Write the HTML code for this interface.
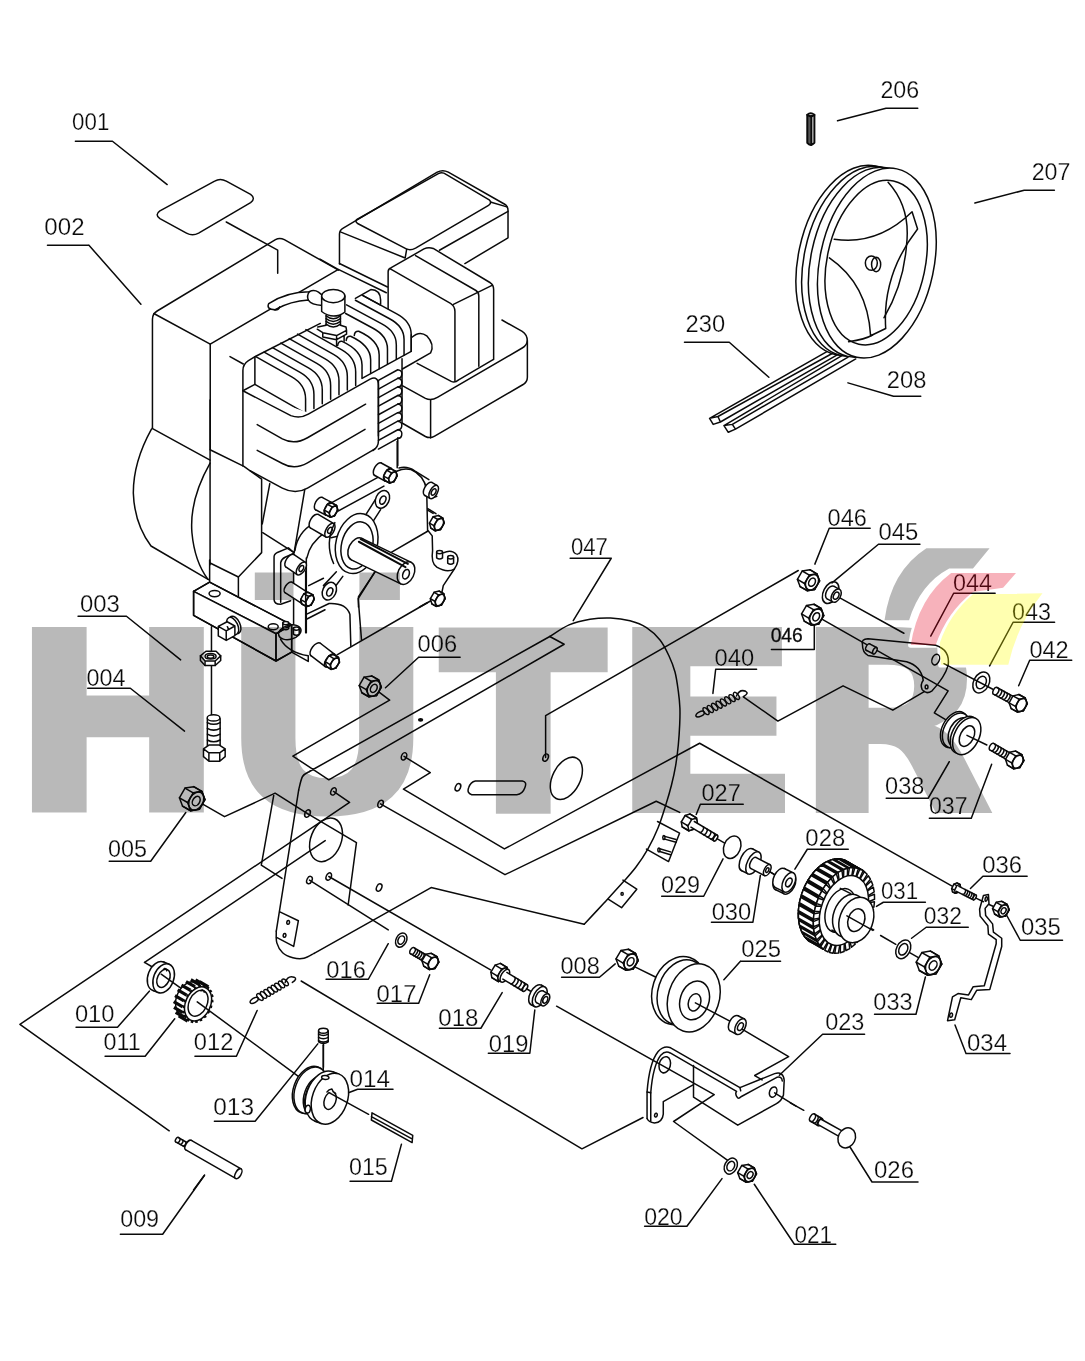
<!DOCTYPE html>
<html lang="en"><head><meta charset="utf-8"><title>HÜTER parts diagram</title>
<style>
html,body{margin:0;padding:0;background:#fff}
body{width:1085px;height:1361px;overflow:hidden;font-family:"Liberation Sans",sans-serif}
svg{display:block;will-change:transform}
.d path,.d line,.d ellipse,.d circle,.d polygon,.d polyline,.d rect{fill:none;stroke:#0a0a0a;stroke-width:1.5;vector-effect:non-scaling-stroke;stroke-linecap:round;stroke-linejoin:round}
.d .w{fill:#fff}
.d .k{fill:#111}
.d .s{stroke-width:1.4}
.lb text{font-family:"Liberation Sans",sans-serif;font-size:23.4px;fill:#0a0a0a;stroke:#fff;stroke-width:.25px}
.lb path{fill:none;stroke:#0a0a0a;stroke-width:1.5;stroke-linecap:round;stroke-linejoin:round}
</style></head><body>
<svg width="1085" height="1361" viewBox="0 0 1085 1361">
<rect width="1085" height="1361" fill="#fff"/>
<!-- 10_engine.svgf -->
<g class="d">
<g transform="translate(140,170) scale(0.276498)">
<path d="M 270,40 Q 290,28 312,40 L 400,88 Q 420,103 400,118 L 212,228 Q 190,240 168,228 L 72,176 Q 52,162 72,148 Z"/>
<path d="M 312,188 L 498,290 L 498,373"/>
<path d="M 45,934 L 45,540 Q 45,520 62,510 L 490,252 Q 505,243 522,252 L 718,362"/>
<path d="M 50,519 L 254,630 L 254,1010"/>
<path d="M 254,630 L 716,360"/>
</g>
<g transform="translate(320,160) scale(0.221198)">
<path d="M 88,470 L 88,335 Q 88,318 105,308 L 530,55 Q 555,42 580,55 L 835,200 Q 850,210 850,228 L 850,352 L 655,468"/>
<path d="M 165,270 L 535,62 Q 552,52 570,65 L 765,180 Q 780,192 762,205 L 432,398 Q 410,410 390,402 L 170,287 Q 158,278 165,270 Z"/>
<path d="M 92,325 L 385,443 L 392,403"/>
<path d="M 540,408 L 850,232"/>
<path d="M 770,190 L 845,212"/>
<path d="M 88,468 L 305,574"/>
<path d="M 0,448 L 78,492 L 300,600"/>
<path class='w' d="M 308,672 L 308,505 Q 308,492 322,487 L 470,402 Q 490,392 512,400 L 770,555 Q 785,565 785,585 L 785,902"/>
<path d="M 318,492 L 590,648 Q 610,660 610,685 L 610,998"/>
<path d="M 603,653 L 780,566"/>
<path d="M 432,432 L 705,590 Q 718,598 718,615 L 718,932"/>
</g>
<g transform="translate(230,270) scale(0.184332)">
<path d="M 0,470 L 72,510"/>
<path d="M 70,1063 L 70,545 Q 70,512 100,492 L 140,468 L 490,290"/>
<path d="M 135,470 L 135,620 L 70,655"/>
<path d="M 135,620 L 405,775"/>
<path d="M 140,470 L 335,580 Q 410,622 410,700 L 410,776"/>
<path d="M 185.3,445.6 L 380.3,555.6 Q 455.3,597.6 455.3,675.6 L 455.3,751.09"/>
<path d="M 230.6,421.2 L 425.6,531.2 Q 500.6,573.2 500.6,651.2 L 500.6,726.17"/>
<path d="M 275.9,396.8 L 470.9,506.8 Q 545.9,548.8 545.9,626.8 L 545.9,701.25"/>
<path d="M 321.2,372.4 L 516.2,482.4 Q 591.2,524.4 591.2,602.4 L 591.2,676.34"/>
<path d="M 366.5,348 L 561.5,458 Q 636.5,500 636.5,578 L 636.5,651.42"/>
<path d="M 411.8,323.6 L 606.8,433.6 Q 681.8,475.6 681.8,553.6 L 681.8,626.51"/>
<path class='w' d="M 70,655 L 330,790 Q 380,808 425,782 L 760,592 Q 805,572 805,625 L 805,900"/>
<path class='w' d="M 210,182 Q 310,118 430,118 Q 455,104 480,120 L 502,138 L 502,192 Q 440,188 425,163 Q 330,168 245,215 Q 195,215 210,182 Z"/>
<path d="M 430,118 Q 415,140 425,163 M 240,216 Q 262,220 270,200"/>
</g>
<g transform="translate(320,275) scale(0.110599)">
<path d="M 320,212 L 460,132 Q 545,135 548,225 L 548,262"/>
<path d="M 385,185 L 548,272"/>
<path d="M 385,185 L 690,350 Q 825,420 825,540 L 825,690"/>
<path d="M 320,228 L 625,393 Q 760,463 760,583 L 760,725"/>
<path d="M 240,270 L 555,440.42 Q 690,510.42 690,630.41 L 690,762"/>
<path d="M 232,348 L 475,479.46 Q 610,549.46 610,669.46 L 610,805"/>
<path d="M 310,547 Q 313,505 350,509 Q 535,592 535,722 L 535,848"/>
<path d="M 237,592 Q 240,550 277,554 Q 458,637 458,767 L 458,890"/>
<path d="M 160,638 Q 163,596 200,600 Q 380,683 380,813 L 380,930"/>
<path d="M 380,935 L 825,690 L 825,540"/>
<path d="M 828,565 Q 900,500 965,550 Q 1040,630 1000,705 L 745,850"/>
<path class='w' d="M 15,190 L 15,330 Q 120,410 225,335 L 225,190"/>
<ellipse class='w' cx="120" cy="190" rx="105" ry="60"/>
<path d="M 55,370 Q 120,420 185,370"/>
<path d="M 55,395 Q 120,445 185,395"/>
<path d="M 55,420 Q 120,470 185,420"/>
<path d="M 55,445 Q 120,495 185,445"/>
<path d="M 55,365 L 55,450 M 185,365 L 185,450"/>
<path d="M -20,470 L 55,455 M 185,455 L 235,470 L 240,500 L 150,548 L 25,522 L -25,490 M 150,548 L 150,585 L 240,535 L 240,500 M 150,585 L 25,560 L 25,522 M 218,548 L 218,600 M 150,585 L 150,640"/>
</g>
<g transform="translate(360,320) scale(0.184332)">
<path d="M 770,0 L 880,62 Q 908,80 908,115 L 908,310 Q 908,335 885,350 L 405,630 Q 380,645 355,632 L 230,560"/>
<path d="M 908,112 Q 905,138 880,152 L 420,420 Q 385,440 355,425 L 232,357"/>
<path d="M 383,437 L 383,640"/>
<path d="M 310,235 L 495,333 Q 515,342 535,325 L 722,215"/>
<path d="M 228,210 L 228,560"/>
<path d="M 205,640 L 205,790"/>
<path d="M 100,328 L 205,270 Q 232,273 226,300 Q 224,316 205,316.5"/>
<path d="M 100,374.5 L 205,316.5 Q 232,319.5 226,346.5 Q 224,362.5 205,363"/>
<path d="M 100,421 L 205,363 Q 232,366 226,393 Q 224,409 205,409.5"/>
<path d="M 100,467.5 L 205,409.5 Q 232,412.5 226,439.5 Q 224,455.5 205,456"/>
<path d="M 100,514 L 205,456 Q 232,459 226,486 Q 224,502 205,502.5"/>
<path d="M 100,560.5 L 205,502.5 Q 232,505.5 226,532.5 Q 224,548.5 205,549"/>
<path d="M 100,607 L 205,549 Q 232,552 226,579 Q 224,595 205,595.5"/>
<path d="M 100,653.5 L 205,595.5 Q 232,598.5 226,625.5 Q 224,641.5 205,642"/>
<path d="M 100,700 L 205,642"/>
<path d="M 100,330 L 100,655 Q 100,690 70,708"/>
</g>
<g transform="translate(130,400) scale(0.221198)">
<path d="M 100,128 L 362,272"/>
<path d="M 97,132 Q 15,280 15,420 Q 20,560 95,660 L 355,812"/>
<path d="M 362,285 Q 268,450 280,600 Q 292,730 352,810"/>
<path d="M 362,0 L 362,745"/>
<path d="M 362,225 L 515,300 L 595,358 L 595,690 L 490,800 L 490,892"/>
<path d="M 362,737 L 490,800"/>
<path d="M 632,378 L 598,560"/>
<path d="M 600,600 L 742,690 L 790,405"/>
</g>
<g transform="translate(250,400) scale(0.119816)">
<path d="M 60,205 L 270,325 Q 370,378 480,315 L 965,35"/>
<path d="M 60,420 L 270,530 Q 370,588 480,525 L 960,245"/>
<path d="M 0,590 L 270,735 Q 380,792 480,735 L 1040,410"/>
</g>
<g transform="translate(270,440) scale(0.184332)">
<path d="M 690,8 L 690,150"/>
<path d="M 648,200 Q 700,145 765,160 Q 835,190 850,270 L 855,495 L 660,608"/>
<path d="M 850,300 Q 870,320 905,305"/>
<path d="M 700,152 Q 745,140 785,168 L 862,215"/>
<path d="M 856,372 L 900,400"/>
<path d="M 855,380 L 885,398 M 858,492 L 880,520 L 882,600 Q 872,668 905,690 Q 960,722 1000,700 Q 1032,655 1012,622 Q 985,590 940,612"/>
<path d="M 1000,700 L 940,790 L 932,830"/>
<path d="M 570,715 L 480,850 L 480,906"/>
<path d="M 812,906 L 880,868"/>
<path d="M 22,866 L 22,640 Q 20,620 40,610 L 100,585 L 130,612 M 22,866 Q 24,892 58,891 L 112,872"/>
<path d="M 58,880 L 58,665 Q 62,645 82,636 L 128,615 L 128,1000"/>
<path d="M 135,600 Q 150,500 240,450"/>
<path d="M 200,640 Q 215,560 300,500"/>
<path d="M 197,640 L 197,1046"/>
<path d="M 330,342 L 590,200 M 352,395 L 618,250"/>
<ellipse class='w' cx="585" cy="158" rx="19" ry="38" transform="rotate(28.61 585 158)"/>
<path class="w" style="stroke:none" d="M 566.8,191.36 L 621.8,221.36 L 658.2,154.64 L 603.2,124.64 Z"/>
<path d="M 566.8,191.36 L 621.8,221.36 M 603.2,124.64 L 658.2,154.64"/>
<ellipse class='w' cx="640" cy="188" rx="19" ry="38" transform="rotate(28.61 640 188)"/>
<path class='w' d="M 616.37,195.72 L 633.44,164.02 L 657.07,156.3 L 683.07,170.3 L 689.63,194.28 L 672.56,225.98 L 648.93,233.7 L 622.93,219.7 Z"/>
<path d="M 646.56,211.98 L 672.56,225.98"/>
<path d="M 622.93,219.7 L 648.93,233.7"/>
<path d="M 616.37,195.72 L 642.37,209.72"/>
<path d="M 633.44,164.02 L 659.44,178.02"/>
<path d="M 657.07,156.3 L 683.07,170.3"/>
<path d="M 663.63,180.28 L 689.63,194.28"/>
<path class='w' d="M 672.56,225.98 L 648.93,233.7 L 642.37,209.72 L 659.44,178.02 L 683.07,170.3 L 689.63,194.28 Z"/>
<ellipse cx="666" cy="202" rx="17.03" ry="30.96" transform="rotate(28.3 666 202)"/>
<ellipse class='w' cx="265" cy="345" rx="19" ry="38" transform="rotate(27.85 265 345)"/>
<path class="w" style="stroke:none" d="M 247.25,378.6 L 300.25,406.6 L 335.75,339.4 L 282.75,311.4 Z"/>
<path d="M 247.25,378.6 L 300.25,406.6 M 282.75,311.4 L 335.75,339.4"/>
<ellipse class='w' cx="318" cy="373" rx="19" ry="38" transform="rotate(27.85 318 373)"/>
<path class='w' d="M 294.37,380.72 L 311.44,349.02 L 335.07,341.3 L 361.07,355.3 L 367.63,379.28 L 350.56,410.98 L 326.93,418.7 L 300.93,404.7 Z"/>
<path d="M 324.56,396.98 L 350.56,410.98"/>
<path d="M 300.93,404.7 L 326.93,418.7"/>
<path d="M 294.37,380.72 L 320.37,394.72"/>
<path d="M 311.44,349.02 L 337.44,363.02"/>
<path d="M 335.07,341.3 L 361.07,355.3"/>
<path d="M 341.63,365.28 L 367.63,379.28"/>
<path class='w' d="M 350.56,410.98 L 326.93,418.7 L 320.37,394.72 L 337.44,363.02 L 361.07,355.3 L 367.63,379.28 Z"/>
<ellipse cx="344" cy="387" rx="17.03" ry="30.96" transform="rotate(28.3 344 387)"/>
<ellipse class='w' cx="240" cy="440" rx="21" ry="42" transform="rotate(30.47 240 440)"/>
<path class="w" style="stroke:none" d="M 218.71,476.2 L 303.71,526.2 L 346.29,453.8 L 261.29,403.8 Z"/>
<path d="M 218.71,476.2 L 303.71,526.2 M 261.29,403.8 L 346.29,453.8"/>
<ellipse class='w' cx="325" cy="490" rx="21" ry="42" transform="rotate(30.47 325 490)"/>
<ellipse cx="325" cy="490" rx="11" ry="18" transform="rotate(30 325 490)"/>
<path d="M 520,405 L 575,318 M 560,440 L 600,378"/>
<ellipse class='w' cx="610" cy="322" rx="36" ry="50" transform="rotate(25 610 322)"/>
<ellipse cx="612" cy="326" rx="15" ry="24" transform="rotate(25 612 326)"/>
<path d="M 360,715 L 290,790 M 395,740 L 350,800"/>
<ellipse class='w' cx="322" cy="820" rx="36" ry="50" transform="rotate(25 322 820)"/>
<ellipse cx="324" cy="824" rx="15" ry="24" transform="rotate(25 324 824)"/>
<path d="M 210,790 L 290,750 M 330,530 L 380,520"/>
<path d="M 352,448 Q 295,560 345,670"/>
<ellipse class='w' cx="470" cy="562" rx="112" ry="165" transform="rotate(14 470 562)"/>
<ellipse cx="472" cy="572" rx="84" ry="130" transform="rotate(14 472 572)"/>
<ellipse class='w' cx="470" cy="592" rx="42.9" ry="65" transform="rotate(25.88 470 592)"/>
<path class="w" style="stroke:none" d="M 441.63,650.48 L 709.63,780.48 L 766.37,663.52 L 498.37,533.52 Z"/>
<path d="M 441.63,650.48 L 709.63,780.48 M 498.37,533.52 L 766.37,663.52"/>
<ellipse class='w' cx="738" cy="722" rx="42.9" ry="65" transform="rotate(25.88 738 722)"/>
<ellipse cx="738" cy="728" rx="17" ry="27" transform="rotate(20 738 728)"/>
<path style="stroke-width:2" d="M 492,538 L 748,672 M 482,552 L 735,690"/>
<ellipse class='w' cx="108" cy="655" rx="20" ry="40" transform="rotate(34.11 108 655)"/>
<path class="w" style="stroke:none" d="M 85.57,688.12 L 147.57,730.12 L 192.43,663.88 L 130.43,621.88 Z"/>
<path d="M 85.57,688.12 L 147.57,730.12 M 130.43,621.88 L 192.43,663.88"/>
<ellipse class='w' cx="170" cy="697" rx="20" ry="40" transform="rotate(34.11 170 697)"/>
<ellipse cx="170" cy="697" rx="11" ry="18" transform="rotate(30 170 697)"/>
<ellipse class='w' cx="100" cy="800" rx="17" ry="34" transform="rotate(32.8 100 800)"/>
<path class="w" style="stroke:none" d="M 81.58,828.58 L 171.58,886.58 L 208.42,829.42 L 118.42,771.42 Z"/>
<path d="M 81.58,828.58 L 171.58,886.58 M 118.42,771.42 L 208.42,829.42"/>
<ellipse class='w' cx="190" cy="858" rx="17" ry="34" transform="rotate(32.8 190 858)"/>
<path class='w' d="M 166.37,865.72 L 183.44,834.02 L 207.07,826.3 L 233.07,840.3 L 239.63,864.28 L 222.56,895.98 L 198.93,903.7 L 172.93,889.7 Z"/>
<path d="M 196.56,881.98 L 222.56,895.98"/>
<path d="M 172.93,889.7 L 198.93,903.7"/>
<path d="M 166.37,865.72 L 192.37,879.72"/>
<path d="M 183.44,834.02 L 209.44,848.02"/>
<path d="M 207.07,826.3 L 233.07,840.3"/>
<path d="M 213.63,850.28 L 239.63,864.28"/>
<path class='w' d="M 222.56,895.98 L 198.93,903.7 L 192.37,879.72 L 209.44,848.02 L 233.07,840.3 L 239.63,864.28 Z"/>
<ellipse cx="216" cy="872" rx="17.03" ry="30.96" transform="rotate(28.3 216 872)"/>
<ellipse class='w' cx="858" cy="265" rx="20" ry="40" transform="rotate(29.54 858 265)"/>
<path class="w" style="stroke:none" d="M 838.28,299.8 L 868.28,316.8 L 907.72,247.2 L 877.72,230.2 Z"/>
<path d="M 838.28,299.8 L 868.28,316.8 M 877.72,230.2 L 907.72,247.2"/>
<ellipse class='w' cx="888" cy="282" rx="20" ry="40" transform="rotate(29.54 888 282)"/>
<ellipse cx="888" cy="282" rx="11" ry="19" transform="rotate(30 888 282)"/>
<path class='w' d="M 864.97,450.8 L 885.12,416.25 L 913.15,409.45 L 937.15,423.45 L 945.03,451.2 L 924.88,485.75 L 896.85,492.55 L 872.85,478.55 Z"/>
<path d="M 900.88,471.75 L 924.88,485.75"/>
<path d="M 872.85,478.55 L 896.85,492.55"/>
<path d="M 864.97,450.8 L 888.97,464.8"/>
<path d="M 885.12,416.25 L 909.12,430.25"/>
<path d="M 913.15,409.45 L 937.15,423.45"/>
<path d="M 921.03,437.2 L 945.03,451.2"/>
<path class='w' d="M 924.88,485.75 L 896.85,492.55 L 888.97,464.8 L 909.12,430.25 L 937.15,423.45 L 945.03,451.2 Z"/>
<ellipse cx="917" cy="458" rx="20.64" ry="34.4" transform="rotate(30.26 917 458)"/>
<path class='w' d="M 869.97,860.8 L 890.12,826.25 L 918.15,819.45 L 942.15,833.45 L 950.03,861.2 L 929.88,895.75 L 901.85,902.55 L 877.85,888.55 Z"/>
<path d="M 905.88,881.75 L 929.88,895.75"/>
<path d="M 877.85,888.55 L 901.85,902.55"/>
<path d="M 869.97,860.8 L 893.97,874.8"/>
<path d="M 890.12,826.25 L 914.12,840.25"/>
<path d="M 918.15,819.45 L 942.15,833.45"/>
<path d="M 926.03,847.2 L 950.03,861.2"/>
<path class='w' d="M 929.88,895.75 L 901.85,902.55 L 893.97,874.8 L 914.12,840.25 L 942.15,833.45 L 950.03,861.2 Z"/>
<ellipse cx="922" cy="868" rx="20.64" ry="34.4" transform="rotate(30.26 922 868)"/>
<path class='w' d="M 904,640 L 904,608 M 936,640 L 936,608 M 904,640 Q 920,652 936,640"/>
<ellipse class='w' cx="920" cy="608" rx="16" ry="9"/>
<path class='w' d="M 964,668 L 964,636 M 996,668 L 996,636 M 964,668 Q 980,680 996,668"/>
<ellipse class='w' cx="980" cy="636" rx="16" ry="9"/>
</g>
<g transform="translate(170,560) scale(0.184332)">
<path class='w' d="M 128,170 L 215,120 L 660,352 L 575,400 Z"/>
<path class='w' d="M 128,170 L 128,300 L 575,548 L 575,400 M 575,548 L 660,500 L 660,352"/>
<path d="M 128,170 L 215,120 L 660,352 L 575,400 Z M 128,170 L 128,300 L 575,548 L 575,400 M 575,548 L 660,500 L 660,352"/>
<ellipse cx="242" cy="182" rx="30" ry="17"/>
<ellipse cx="560" cy="362" rx="27" ry="16"/>
<path d="M 215,120 L 215,0"/>
<ellipse class='w' cx="352" cy="352" rx="28" ry="50" transform="rotate(-25 352 352)"/>
<ellipse class='w' cx="340" cy="358" rx="28" ry="50" transform="rotate(-25 340 358)"/>
<path class='w' d="M 262,360 L 310,335 L 352,358 L 352,410 L 305,436 L 262,412 Z M 262,360 L 305,385 L 352,358 M 305,385 L 305,436"/>
<path d="M 225,362 L 225,500 M 225,570 L 225,840"/>
<path class='w' d="M 165,520 L 195,495 L 250,495 L 275,520 L 275,545 L 245,572 L 190,572 L 165,545 Z"/>
<path d="M 165,520 L 190,548 L 245,548 L 275,520 M 190,548 L 190,572 M 245,548 L 245,572"/>
<ellipse cx="220" cy="522" rx="30" ry="15"/>
<ellipse cx="220" cy="524" rx="18" ry="9"/>
<ellipse cx="650" cy="392" rx="62" ry="38" transform="rotate(-15 650 392)"/>
<path class='w' d="M 612,372 L 612,342 M 644,372 L 644,342 M 612,372 Q 628,384 644,372"/>
<ellipse class='w' cx="628" cy="342" rx="16" ry="9"/>
<path class='w' d="M 669,402 L 669,372 M 701,402 L 701,372 M 669,402 Q 685,414 701,402"/>
<ellipse class='w' cx="685" cy="372" rx="16" ry="9"/>
<ellipse class='w' cx="790" cy="485" rx="21" ry="42" transform="rotate(37.57 790 485)"/>
<path class="w" style="stroke:none" d="M 764.39,518.29 L 842.39,578.29 L 893.61,511.71 L 815.61,451.71 Z"/>
<path d="M 764.39,518.29 L 842.39,578.29 M 815.61,451.71 L 893.61,511.71"/>
<ellipse class='w' cx="868" cy="545" rx="21" ry="42" transform="rotate(37.57 868 545)"/>
<path class='w' d="M 842.63,551.7 L 862.54,519.33 L 887.92,512.64 L 913.92,528.64 L 919.37,554.3 L 899.46,586.67 L 874.08,593.36 L 848.08,577.36 Z"/>
<path d="M 873.46,570.67 L 899.46,586.67"/>
<path d="M 848.08,577.36 L 874.08,593.36"/>
<path d="M 842.63,551.7 L 868.63,567.7"/>
<path d="M 862.54,519.33 L 888.54,535.33"/>
<path d="M 887.92,512.64 L 913.92,528.64"/>
<path d="M 893.37,538.3 L 919.37,554.3"/>
<path class='w' d="M 899.46,586.67 L 874.08,593.36 L 868.63,567.7 L 888.54,535.33 L 913.92,528.64 L 919.37,554.3 Z"/>
<ellipse cx="894" cy="561" rx="17.97" ry="32.68" transform="rotate(31.61 894 561)"/>
<path d="M 600,430 Q 640,500 750,520 L 750,550 L 660,500"/>
</g>
<g transform="translate(290,560) scale(0.184332)">
<path d="M 460,65 L 370,210 L 388,435"/>
<path d="M 255,515 L 745,232"/>
<path d="M 88,295 L 212,236 Q 305,232 325,295 L 330,468"/>
<path d="M 92,320 L 190,270"/>
<path d="M 85,60 L 85,395"/>
</g>
</g>

<!-- 20_parts.svgf -->
<g class="d">
<path d="M 379.4,692.44 L 389.63,700.18 L 292.86,756.04 L 328.8,779.82 L 564.15,644.24 L 549.77,636.5 L 309.45,771.52"/>
<path d="M 549.8,636.5 C 553.02,634.57 562.4,627.77 569.1,624.9 C 575.8,622.03 583.08,620.45 590,619.3 C 596.92,618.15 603.93,617.75 610.6,618 C 617.27,618.25 624.02,619.2 630,620.8 C 635.98,622.4 641.5,624.4 646.5,627.6 C 651.5,630.8 656.3,635.38 660,640 C 663.7,644.62 666.2,649.97 668.7,655.3 C 671.2,660.63 673.4,666.02 675,672 C 676.6,677.98 677.48,685.2 678.3,691.2 C 679.12,697.2 679.67,702.47 679.9,708 C 680.13,713.53 679.97,718.23 679.7,724.4 C 679.43,730.57 678.98,738.08 678.3,745 C 677.62,751.92 676.73,759.23 675.6,765.9 C 674.47,772.57 673.13,778.5 671.5,785 C 669.87,791.5 668.05,797.73 665.8,804.9 C 663.55,812.07 661,820.63 658,828 C 655,835.37 651.47,842.6 647.8,849.1 C 644.13,855.6 640.15,861.47 636,867 C 631.85,872.53 628.23,876.3 622.9,882.3 C 617.57,888.3 610.45,896 604,903 C 597.55,910 587.5,920.75 584.2,924.3"/>
<path d="M 309.45,771.52 C 308.29,772.35 304.33,773.41 302.53,776.5 C 300.74,779.59 299.31,787.79 298.66,790.05"/>
<path d="M 298.66,790.05 L 276.27,931.24"/>
<path d="M 276.27,931.24 C 276.36,933.18 275.76,939.26 276.82,942.86 C 277.88,946.45 279.95,950.32 282.63,952.81 C 285.3,955.3 289.31,956.87 292.86,957.79 C 296.41,958.71 300.37,959.08 303.92,958.34 C 307.47,957.6 312.44,954.19 314.15,953.36"/>
<path d="M 314.15,953.36 L 431.11,887.56 L 584.2,924.3"/>
<path d="M 404.01,756.31 L 430.28,772.63 L 403.46,789.22 L 504.38,848.94 L 699.63,743.23 L 953.87,887.1"/>
<path d="M 333.5,791.43 L 349.54,802.49 L 19.91,1024.33 L 169.22,1130.78"/>
<path d="M 307.51,813.55 L 356.45,842.58 L 348.16,904.98"/>
<path d="M 325.21,840.65 L 144.56,962.44"/>
<path d="M 201.84,803.69 L 224.52,816.68 L 275.12,793.18 L 307.51,813.55"/>
<path d="M 273.73,795.39 L 261.29,865.07 L 282.03,878.34"/>
<path d="M 380.51,803.87 L 505,874.7 L 656.22,801.29 L 679.72,812.35"/>
<path d="M 545.62,757.6 L 545.62,715.58 L 798.27,570.51"/>
<path d="M 309.45,880.09 L 388.25,929.86"/>
<path d="M 328.8,876.5 L 490.55,969.95"/>
<path d="M 301.15,981.01 L 581.94,1148.85 L 643.04,1117.51"/>
<path d="M 743.32,696.77 L 777.88,721.11 L 843.06,685.81 L 892.83,710.14 L 924.63,691.34"/>
<path d="M 840.3,598.16 L 903.89,633.27"/>
<path d="M 822.33,619.45 L 948.13,690.78 L 934.31,712.9 L 948.13,721.2"/>
<path d="M 556.59,1006.18 L 714.2,1094.7 L 673.6,1121.5 L 727.65,1160.44"/>
<g transform="translate(250,620) scale(0.276498)">
<ellipse cx="557" cy="493" rx="9" ry="14" transform="rotate(25 557 493)"/>
<ellipse cx="302" cy="620" rx="9" ry="14" transform="rotate(25 302 620)"/>
<ellipse cx="208" cy="700" rx="9" ry="14" transform="rotate(25 208 700)"/>
<ellipse cx="472" cy="665" rx="9" ry="14" transform="rotate(25 472 665)"/>
<ellipse cx="752" cy="605" rx="9" ry="14" transform="rotate(25 752 605)"/>
<path d="M 815,582 L 985,582 Q 1003,585 994,607 Q 986,630 965,632 L 802,632 Q 783,626 791,606 Q 798,585 815,582 Z"/>
<ellipse cx="275" cy="795" rx="55" ry="82" transform="rotate(22 275 795)"/>
<ellipse class='k' cx="617" cy="361" rx="7" ry="4"/>
<path class='w' d="M 394.92,237.18 L 412.52,206.7 L 439.8,202.12 L 465.4,216.91 L 475.08,242.82 L 457.48,273.3 L 430.2,277.88 L 404.6,263.09 Z"/>
<path d="M 431.88,258.52 L 457.48,273.3"/>
<path d="M 404.6,263.09 L 430.2,277.88"/>
<path d="M 394.92,237.18 L 420.52,251.96"/>
<path d="M 412.52,206.7 L 438.12,221.48"/>
<path d="M 439.8,202.12 L 465.4,216.91"/>
<path d="M 449.48,228.04 L 475.08,242.82"/>
<path class='w' d="M 457.48,273.3 L 430.2,277.88 L 420.52,251.96 L 438.12,221.48 L 465.4,216.91 L 475.08,242.82 Z"/>
<ellipse cx="447.8" cy="247.39" rx="21.19" ry="30.27" transform="rotate(30 447.8 247.39)"/>
<ellipse class='w' cx="447.8" cy="247.39" rx="11.09" ry="15.84" transform="rotate(30 447.8 247.39)"/>
</g>
<g transform="translate(500,600) scale(0.276498)">
<ellipse cx="165" cy="570" rx="9" ry="14" transform="rotate(25 165 570)"/>
<ellipse cx="240" cy="645" rx="50" ry="82" transform="rotate(27 240 645)"/>
<ellipse class='s' cx="745" cy="402" rx="7.5" ry="15" transform="rotate(-38.57 745 402)"/>
<ellipse class='s' cx="760.71" cy="394.14" rx="7.5" ry="15" transform="rotate(-38.57 760.71 394.14)"/>
<ellipse class='s' cx="776.43" cy="386.29" rx="7.5" ry="15" transform="rotate(-38.57 776.43 386.29)"/>
<ellipse class='s' cx="792.14" cy="378.43" rx="7.5" ry="15" transform="rotate(-38.57 792.14 378.43)"/>
<ellipse class='s' cx="807.86" cy="370.57" rx="7.5" ry="15" transform="rotate(-38.57 807.86 370.57)"/>
<ellipse class='s' cx="823.57" cy="362.71" rx="7.5" ry="15" transform="rotate(-38.57 823.57 362.71)"/>
<ellipse class='s' cx="839.29" cy="354.86" rx="7.5" ry="15" transform="rotate(-38.57 839.29 354.86)"/>
<ellipse class='s' cx="855" cy="347" rx="7.5" ry="15" transform="rotate(-38.57 855 347)"/>
<ellipse cx="723.53" cy="412.73" rx="16.5" ry="8.25" transform="rotate(-26.57 723.53 412.73)"/>
<path d="M 855,347 Q 867.07,320.84 888.54,330.23 Q 901.96,336.94 881.16,349.01"/>
</g>
<g transform="translate(250,840) scale(0.276498)">
<ellipse cx="215" cy="145" rx="9" ry="14" transform="rotate(25 215 145)"/>
<ellipse cx="285" cy="132" rx="9" ry="14" transform="rotate(25 285 132)"/>
<ellipse cx="467" cy="172" rx="9" ry="14" transform="rotate(25 467 172)"/>
<path d="M 108,260 L 175,292 L 158,385 L 96,352"/>
<ellipse cx="138" cy="298" rx="5" ry="7" transform="rotate(10 138 298)"/>
<ellipse cx="125" cy="345" rx="5" ry="7" transform="rotate(10 125 345)"/>
<ellipse class='w' cx="547" cy="362" rx="18.9" ry="27" transform="rotate(27 547 362)"/>
<ellipse cx="547" cy="362" rx="11.2" ry="16" transform="rotate(27 547 362)"/>
<ellipse class='w' cx="586" cy="400" rx="6.25" ry="12.5" transform="rotate(30.51 586 400)"/>
<path class="w" style="stroke:none" d="M 579.65,410.77 L 635.65,443.77 L 648.35,422.23 L 592.35,389.23 Z"/>
<path d="M 579.65,410.77 L 635.65,443.77 M 592.35,389.23 L 648.35,422.23"/>
<path d="M 583.57,413.08 C 590.74,417.3 603.43,395.76 596.27,391.54"/>
<path d="M 591.41,417.7 C 598.58,421.92 611.27,400.38 604.11,396.16"/>
<path d="M 599.25,422.32 C 606.42,426.54 619.11,405 611.95,400.78"/>
<path d="M 607.09,426.94 C 614.26,431.16 626.95,409.62 619.79,405.4"/>
<path d="M 614.93,431.56 C 622.1,435.78 634.79,414.24 627.63,410.02"/>
<path class='w' d="M 621.85,436.8 L 635.56,413.53 L 655.71,409.74 L 676.38,421.92 L 682.83,441.39 L 669.12,464.65 L 648.97,468.45 L 628.29,456.26 Z"/>
<path d="M 648.44,452.47 L 669.12,464.65"/>
<path d="M 628.29,456.26 L 648.97,468.45"/>
<path d="M 621.85,436.8 L 642.53,448.98"/>
<path d="M 635.56,413.53 L 656.24,425.72"/>
<path d="M 655.71,409.74 L 676.38,421.92"/>
<path d="M 662.15,429.2 L 682.83,441.39"/>
<path class='w' d="M 669.12,464.65 L 648.97,468.45 L 642.53,448.98 L 656.24,425.72 L 676.38,421.92 L 682.83,441.39 Z"/>
<ellipse cx="662.68" cy="445.18" rx="15.33" ry="23.22" transform="rotate(30.51 662.68 445.18)"/>
<path class='w' d="M 871.14,478.18 L 886.58,452.45 L 905.43,446.27 L 929.45,460.68 L 932.87,480.23 L 917.43,505.95 L 898.58,512.13 L 874.57,497.73 Z"/>
<path d="M 893.42,491.55 L 917.43,505.95"/>
<path d="M 874.57,497.72 L 898.57,512.13"/>
<path d="M 871.14,478.18 L 895.15,492.58"/>
<path d="M 886.58,452.45 L 910.59,466.86"/>
<path d="M 905.43,446.28 L 929.44,460.68"/>
<path d="M 908.86,465.82 L 932.87,480.23"/>
<path class='w' d="M 917.43,505.95 L 898.57,512.13 L 895.15,492.58 L 910.59,466.86 L 929.44,460.68 L 932.87,480.23 Z"/>
<ellipse class='w' cx="914.01" cy="486.41" rx="13" ry="26" transform="rotate(30.96 914.01 486.41)"/>
<path class="w" style="stroke:none" d="M 900.63,508.7 L 908.44,513.38 L 935.19,468.79 L 927.39,464.11 Z"/>
<path d="M 900.63,508.7 L 908.44,513.38 M 927.39,464.11 L 935.19,468.79"/>
<ellipse class='w' cx="921.81" cy="491.09" rx="13" ry="26" transform="rotate(30.96 921.81 491.09)"/>
<path class="w" style="stroke:none" d="M 914.61,503.09 L 987.8,547 L 1002.2,523 L 929.02,479.08 Z"/>
<path d="M 914.61,503.09 L 987.8,547 M 929.02,479.08 L 1002.2,523"/>
<ellipse class='w' cx="995" cy="535" rx="7" ry="14" transform="rotate(30.96 995 535)"/>
<path d="M 942.22,519.66 C 950.2,524.45 964.61,500.44 956.63,495.65"/>
<path d="M 953.53,526.44 C 961.51,531.23 975.92,507.22 967.93,502.43"/>
<path d="M 964.83,533.23 C 972.82,538.02 987.22,514.01 979.24,509.22"/>
<path d="M 976.14,540.01 C 984.12,544.8 998.53,520.79 990.55,516"/>
<path d="M 1000,538 L 1030,556"/>
<ellipse class='w' cx="1035" cy="560" rx="22" ry="40" transform="rotate(28.3 1035 560)"/>
<path class="w" style="stroke:none" d="M 1016.04,595.22 L 1029.04,602.22 L 1066.96,531.78 L 1053.96,524.78 Z"/>
<path d="M 1016.04,595.22 L 1029.04,602.22 M 1053.96,524.78 L 1066.96,531.78"/>
<ellipse class='w' cx="1048" cy="567" rx="22" ry="40" transform="rotate(28.3 1048 567)"/>
<ellipse class='w' cx="1048" cy="567" rx="13.2" ry="24" transform="rotate(28.81 1048 567)"/>
<path class="w" style="stroke:none" d="M 1036.43,588.03 L 1056.43,599.03 L 1079.57,556.97 L 1059.57,545.97 Z"/>
<path d="M 1036.43,588.03 L 1056.43,599.03 M 1059.57,545.97 L 1079.57,556.97"/>
<ellipse class='w' cx="1068" cy="578" rx="13.2" ry="24" transform="rotate(28.81 1068 578)"/>
<ellipse cx="1068" cy="578" rx="8" ry="13" transform="rotate(27 1068 578)"/>
<ellipse class='s' cx="36" cy="568" rx="7.5" ry="15" transform="rotate(-42.22 36 568)"/>
<ellipse class='s' cx="49" cy="560.43" rx="7.5" ry="15" transform="rotate(-42.22 49 560.43)"/>
<ellipse class='s' cx="62" cy="552.86" rx="7.5" ry="15" transform="rotate(-42.22 62 552.86)"/>
<ellipse class='s' cx="75" cy="545.29" rx="7.5" ry="15" transform="rotate(-42.22 75 545.29)"/>
<ellipse class='s' cx="88" cy="537.71" rx="7.5" ry="15" transform="rotate(-42.22 88 537.71)"/>
<ellipse class='s' cx="101" cy="530.14" rx="7.5" ry="15" transform="rotate(-42.22 101 530.14)"/>
<ellipse class='s' cx="114" cy="522.57" rx="7.5" ry="15" transform="rotate(-42.22 114 522.57)"/>
<ellipse class='s' cx="127" cy="515" rx="7.5" ry="15" transform="rotate(-42.22 127 515)"/>
<ellipse cx="15.26" cy="580.08" rx="16.5" ry="8.25" transform="rotate(-30.22 15.26 580.08)"/>
<path d="M 127,515 Q 137.38,488.12 159.4,496.13 Q 173.22,501.97 153.24,515.34"/>
<path class='w' d="M 248,690 L 248,730 Q 265,742 283,730 L 283,690"/>
<ellipse class='w' cx="265" cy="690" rx="17" ry="9"/>
<path d="M 248,702 Q 265,712 283,702"/>
<path d="M 248,714 Q 265,724 283,714"/>
<path d="M 248,726 Q 265,736 283,726"/>
<path d="M 265,742 L 265,830"/>
</g>
<g transform="translate(540,780) scale(0.276498)">
<path d="M 425,150 L 505,192 L 465,295 L 385,250"/>
<path d="M 448,203 L 492,215 M 448,213 L 492,225 M 430,248 L 472,260 M 430,258 L 472,270"/>
<ellipse cx="448" cy="208" rx="4" ry="7"/>
<ellipse cx="430" cy="253" rx="4" ry="7"/>
<path d="M 300,362 L 350,395 L 295,462 L 248,432"/>
<ellipse cx="297" cy="412" rx="4" ry="5"/>
<path class='w' d="M 511.04,151.58 L 524.9,128.41 L 541.86,122.83 L 565.89,137.2 L 568.99,154.79 L 555.13,177.96 L 538.17,183.54 L 514.14,169.17 Z"/>
<path d="M 531.1,163.59 L 555.13,177.96"/>
<path d="M 514.14,169.17 L 538.17,183.54"/>
<path d="M 511.04,151.58 L 535.07,165.96"/>
<path d="M 524.9,128.41 L 548.93,142.79"/>
<path d="M 541.86,122.83 L 565.89,137.2"/>
<path d="M 544.96,140.42 L 568.99,154.79"/>
<path class='w' d="M 555.13,177.96 L 538.17,183.54 L 535.07,165.96 L 548.93,142.79 L 565.89,137.2 L 568.99,154.79 Z"/>
<path class="w" style="stroke:none" d="M 545.87,170.67 L 628.84,220.3 L 641.16,199.7 L 558.19,150.07 Z"/>
<path d="M 545.87,170.67 L 628.84,220.3 M 558.19,150.07 L 641.16,199.7"/>
<ellipse class='w' cx="635" cy="210" rx="6" ry="12" transform="rotate(30.88 635 210)"/>
<path d="M 577.38,189.52 C 584.23,193.61 596.55,173.02 589.7,168.92"/>
<path d="M 590.61,197.43 C 597.46,201.53 609.78,180.93 602.93,176.83"/>
<path d="M 603.84,205.35 C 610.69,209.44 623.01,188.85 616.16,184.75"/>
<path d="M 617.07,213.26 C 623.92,217.36 636.24,196.76 629.39,192.66"/>
<path d="M 640,212 L 668,228"/>
<ellipse cx="695" cy="243" rx="30" ry="42" transform="rotate(22 695 243)"/>
<ellipse class='w' cx="748" cy="288" rx="22" ry="44" transform="rotate(26.57 748 288)"/>
<path class="w" style="stroke:none" d="M 728.32,327.35 L 752.32,339.35 L 791.68,260.65 L 767.68,248.65 Z"/>
<path d="M 728.32,327.35 L 752.32,339.35 M 767.68,248.65 L 791.68,260.65"/>
<ellipse class='w' cx="772" cy="300" rx="22" ry="44" transform="rotate(26.57 772 300)"/>
<ellipse class='w' cx="772" cy="300" rx="11" ry="22" transform="rotate(27.47 772 300)"/>
<path class="w" style="stroke:none" d="M 761.85,319.52 L 811.85,345.52 L 832.15,306.48 L 782.15,280.48 Z"/>
<path d="M 761.85,319.52 L 811.85,345.52 M 782.15,280.48 L 832.15,306.48"/>
<ellipse class='w' cx="822" cy="326" rx="11" ry="22" transform="rotate(27.47 822 326)"/>
<ellipse cx="822" cy="326" rx="5" ry="9" transform="rotate(27 822 326)"/>
<path d="M 832,332 L 862,350"/>
<ellipse class='w' cx="868" cy="362" rx="20.9" ry="38" transform="rotate(26.57 868 362)"/>
<path class="w" style="stroke:none" d="M 851.01,395.99 L 883.01,411.99 L 916.99,344.01 L 884.99,328.01 Z"/>
<path d="M 851.01,395.99 L 883.01,411.99 M 884.99,328.01 L 916.99,344.01"/>
<ellipse class='w' cx="900" cy="378" rx="20.9" ry="38" transform="rotate(26.57 900 378)"/>
<ellipse cx="900" cy="378" rx="10" ry="17" transform="rotate(27 900 378)"/>
<path class='w' d="M 274.92,647.18 L 292.52,616.7 L 319.8,612.12 L 345.4,626.91 L 355.08,652.82 L 337.48,683.3 L 310.2,687.88 L 284.6,673.09 Z"/>
<path d="M 311.88,668.52 L 337.48,683.3"/>
<path d="M 284.6,673.09 L 310.2,687.88"/>
<path d="M 274.92,647.18 L 300.52,661.96"/>
<path d="M 292.52,616.7 L 318.12,631.48"/>
<path d="M 319.8,612.12 L 345.4,626.91"/>
<path d="M 329.48,638.04 L 355.08,652.82"/>
<path class='w' d="M 337.48,683.3 L 310.2,687.88 L 300.52,661.96 L 318.12,631.48 L 345.4,626.91 L 355.08,652.82 Z"/>
<ellipse cx="327.8" cy="657.39" rx="21.19" ry="30.27" transform="rotate(30 327.8 657.39)"/>
<ellipse class='w' cx="327.8" cy="657.39" rx="11.09" ry="15.84" transform="rotate(30 327.8 657.39)"/>
<path d="M 345,677 L 425,716"/>
<ellipse class='w' cx="503" cy="762" rx="96" ry="126" transform="rotate(18 503 762)"/>
<ellipse class='w' cx="515" cy="768" rx="88" ry="120" transform="rotate(18 515 768)"/>
<ellipse class='w' cx="556" cy="788" rx="92" ry="126" transform="rotate(18 556 788)"/>
<ellipse cx="559" cy="797" rx="52" ry="72" transform="rotate(18 559 797)"/>
<ellipse cx="559" cy="804" rx="22" ry="32" transform="rotate(18 559 804)"/>
<path d="M 562,806 L 690,874"/>
<ellipse class='w' cx="702" cy="880" rx="17.05" ry="31" transform="rotate(27.55 702 880)"/>
<path class="w" style="stroke:none" d="M 687.66,907.48 L 710.66,919.48 L 739.34,864.52 L 716.34,852.52 Z"/>
<path d="M 687.66,907.48 L 710.66,919.48 M 716.34,852.52 L 739.34,864.52"/>
<ellipse class='w' cx="725" cy="892" rx="17.05" ry="31" transform="rotate(27.55 725 892)"/>
<ellipse cx="725" cy="892" rx="9" ry="15" transform="rotate(27 725 892)"/>
</g>
<g transform="translate(770,800) scale(0.276498)">
<path d="M 0,260 L 25,275"/>
<ellipse class='w' cx="35" cy="282" rx="20.9" ry="38" transform="rotate(25.87 35 282)"/>
<path class="w" style="stroke:none" d="M 18.42,316.19 L 51.42,332.19 L 84.58,263.81 L 51.58,247.81 Z"/>
<path d="M 18.42,316.19 L 51.42,332.19 M 51.58,247.81 L 84.58,263.81"/>
<ellipse class='w' cx="68" cy="298" rx="20.9" ry="38" transform="rotate(25.87 68 298)"/>
<ellipse cx="68" cy="298" rx="10" ry="17" transform="rotate(27 68 298)"/>
<path d="M 285,420 L 375,470 M 400,490 L 455,522 M 505,552 L 540,572"/>
<ellipse class='w' cx="482" cy="540" rx="24.48" ry="36" transform="rotate(27 482 540)"/>
<ellipse cx="482" cy="540" rx="14.96" ry="22" transform="rotate(27 482 540)"/>
<path class='w' d="M 528.88,586.76 L 549.13,551.68 L 580.52,546.42 L 609.98,563.43 L 621.12,593.24 L 600.87,628.32 L 569.48,633.58 L 540.02,616.57 Z"/>
<path d="M 571.41,611.31 L 600.87,628.32"/>
<path d="M 540.02,616.57 L 569.48,633.58"/>
<path d="M 528.88,586.76 L 558.34,603.77"/>
<path d="M 549.13,551.68 L 578.59,568.69"/>
<path d="M 580.52,546.42 L 609.98,563.43"/>
<path d="M 591.66,576.23 L 621.12,593.24"/>
<path class='w' d="M 600.87,628.32 L 569.48,633.58 L 558.34,603.77 L 578.59,568.69 L 609.98,563.43 L 621.12,593.24 Z"/>
<ellipse cx="589.73" cy="598.5" rx="24.38" ry="34.83" transform="rotate(30 589.73 598.5)"/>
<ellipse class='w' cx="589.73" cy="598.5" rx="12.76" ry="18.23" transform="rotate(30 589.73 598.5)"/>
<path class='w' d="M 657,320.56 L 665.05,304.46 L 676.05,299.9 L 686.78,305.27 L 689.73,316.8 L 681.68,332.9 L 670.68,337.47 L 659.95,332.1 Z"/>
<path d="M 670.95,327.54 L 681.68,332.9"/>
<path d="M 659.95,332.1 L 670.68,337.47"/>
<path d="M 657,320.56 L 667.74,325.93"/>
<path d="M 665.05,304.46 L 675.79,309.83"/>
<path d="M 676.05,299.9 L 686.78,305.27"/>
<path d="M 679,311.44 L 689.73,316.8"/>
<path class='w' d="M 681.68,332.9 L 670.68,337.47 L 667.74,325.93 L 675.79,309.83 L 686.78,305.27 L 689.73,316.8 Z"/>
<path class="w" style="stroke:none" d="M 674.26,330.31 L 735.53,360.94 L 744.47,343.06 L 683.21,312.42 Z"/>
<path d="M 674.26,330.31 L 735.53,360.94 M 683.21,312.42 L 744.47,343.06"/>
<ellipse class='w' cx="740" cy="352" rx="5" ry="10" transform="rotate(26.57 740 352)"/>
<path d="M 696.48,341.42 C 702.43,344.4 711.37,326.51 705.43,323.53"/>
<path d="M 704.17,345.26 C 710.11,348.24 719.06,330.35 713.11,327.37"/>
<path d="M 711.85,349.1 C 717.8,352.08 726.74,334.19 720.79,331.22"/>
<path d="M 719.53,352.95 C 725.48,355.92 734.42,338.03 728.48,335.06"/>
<path d="M 727.21,356.79 C 733.16,359.76 742.11,341.87 736.16,338.9"/>
<path d="M 745,355 L 772,368 M 792,378 L 815,388"/>
<path class='w' d="M 804.94,392.88 L 818.14,370.02 L 838.6,366.59 L 857.8,377.68 L 865.06,397.12 L 851.86,419.98 L 831.4,423.41 L 812.2,412.32 Z"/>
<path d="M 832.66,408.89 L 851.86,419.98"/>
<path d="M 812.2,412.32 L 831.4,423.41"/>
<path d="M 804.94,392.89 L 824.14,403.97"/>
<path d="M 818.14,370.02 L 837.34,381.11"/>
<path d="M 838.6,366.59 L 857.8,377.68"/>
<path d="M 845.86,386.03 L 865.06,397.11"/>
<path class='w' d="M 851.86,419.98 L 831.4,423.41 L 824.14,403.97 L 837.34,381.11 L 857.8,377.68 L 865.06,397.11 Z"/>
<ellipse cx="844.6" cy="400.54" rx="15.89" ry="22.7" transform="rotate(30 844.6 400.54)"/>
<ellipse class='w' cx="844.6" cy="400.54" rx="8.32" ry="11.88" transform="rotate(30 844.6 400.54)"/>
<path d="M 772,345 L 790,342 L 792,375 L 778,392 L 780,418 L 805,448 L 808,478 L 838,500 L 838,530 L 795,685 L 748,688 L 728,722 L 690,715 L 668,795 L 642,798 L 660,712 L 680,700 L 718,705 L 735,675 L 775,672 L 818,520 L 818,505 L 790,485 L 788,455 L 760,420 L 758,395 Z"/>
<ellipse cx="782" cy="358" rx="4" ry="8" transform="rotate(10 782 358)"/>
<ellipse cx="655" cy="778" rx="5" ry="8" transform="rotate(10 655 778)"/>
</g>
<g transform="translate(785,500) scale(0.276498)">
<path class='w' d="M 44.92,287.18 L 62.52,256.7 L 89.8,252.12 L 115.4,266.91 L 125.08,292.82 L 107.48,323.3 L 80.2,327.88 L 54.6,313.09 Z"/>
<path d="M 81.88,308.52 L 107.48,323.3"/>
<path d="M 54.6,313.09 L 80.2,327.88"/>
<path d="M 44.92,287.18 L 70.52,301.96"/>
<path d="M 62.52,256.7 L 88.12,271.48"/>
<path d="M 89.8,252.12 L 115.4,266.91"/>
<path d="M 99.48,278.04 L 125.08,292.82"/>
<path class='w' d="M 107.48,323.3 L 80.2,327.88 L 70.52,301.96 L 88.12,271.48 L 115.4,266.91 L 125.08,292.82 Z"/>
<ellipse cx="97.8" cy="297.39" rx="21.19" ry="30.27" transform="rotate(30 97.8 297.39)"/>
<ellipse class='w' cx="97.8" cy="297.39" rx="11.09" ry="15.84" transform="rotate(30 97.8 297.39)"/>
<ellipse class='w' cx="165" cy="335" rx="26.04" ry="42" transform="rotate(27 165 335)"/>
<ellipse cx="165" cy="335" rx="0" ry="0" transform="rotate(27 165 335)"/>
<ellipse class='w' cx="165" cy="335" rx="15.6" ry="26" transform="rotate(28.81 165 335)"/>
<path class="w" style="stroke:none" d="M 152.47,357.78 L 172.47,368.78 L 197.53,323.22 L 177.53,312.22 Z"/>
<path d="M 152.47,357.78 L 172.47,368.78 M 177.53,312.22 L 197.53,323.22"/>
<ellipse class='w' cx="185" cy="346" rx="15.6" ry="26" transform="rotate(28.81 185 346)"/>
<ellipse cx="185" cy="346" rx="9" ry="14" transform="rotate(27 185 346)"/>
<path class='w' d="M 59.92,412.18 L 77.52,381.7 L 104.8,377.12 L 130.4,391.91 L 140.08,417.82 L 122.48,448.3 L 95.2,452.88 L 69.6,438.09 Z"/>
<path d="M 96.88,433.52 L 122.48,448.3"/>
<path d="M 69.6,438.09 L 95.2,452.88"/>
<path d="M 59.92,412.18 L 85.52,426.96"/>
<path d="M 77.52,381.7 L 103.12,396.48"/>
<path d="M 104.8,377.12 L 130.4,391.91"/>
<path d="M 114.48,403.04 L 140.08,417.82"/>
<path class='w' d="M 122.48,448.3 L 95.2,452.88 L 85.52,426.96 L 103.12,396.48 L 130.4,391.91 L 140.08,417.82 Z"/>
<ellipse cx="112.8" cy="422.39" rx="21.19" ry="30.27" transform="rotate(30 112.8 422.39)"/>
<ellipse class='w' cx="112.8" cy="422.39" rx="11.09" ry="15.84" transform="rotate(30 112.8 422.39)"/>
<path d="M 280,522 Q 275,503 300,502 L 545,525 Q 598,542 590,598 Q 578,640 532,690 Q 510,705 496,686 Q 488,668 500,652 Q 492,600 440,585 L 300,562 Q 280,552 280,522 Z"/>
<ellipse class='w' cx="300" cy="532" rx="6.5" ry="13" transform="rotate(27.47 300 532)"/>
<path class="w" style="stroke:none" d="M 294,543.53 L 319,556.53 L 331,533.47 L 306,520.47 Z"/>
<path d="M 294,543.53 L 319,556.53 M 306,520.47 L 331,533.47"/>
<ellipse class='w' cx="325" cy="545" rx="6.5" ry="13" transform="rotate(27.47 325 545)"/>
<ellipse cx="545" cy="577" rx="13" ry="20" transform="rotate(20 545 577)"/>
<ellipse cx="512" cy="676" rx="5" ry="7"/>
<ellipse class='w' cx="710" cy="660" rx="28" ry="40" transform="rotate(27 710 660)"/>
<ellipse cx="710" cy="660" rx="16.8" ry="24" transform="rotate(27 710 660)"/>
<path d="M 575,592 L 762,690"/>
<ellipse class='w' cx="760" cy="690" rx="6.75" ry="13.5" transform="rotate(28.44 760 690)"/>
<path class="w" style="stroke:none" d="M 753.57,701.87 L 825.57,740.87 L 838.43,717.13 L 766.43,678.13 Z"/>
<path d="M 753.57,701.87 L 825.57,740.87 M 766.43,678.13 L 838.43,717.13"/>
<path d="M 758.61,704.6 C 766.5,708.88 779.36,685.14 771.47,680.86"/>
<path d="M 768.69,710.06 C 776.58,714.34 789.44,690.6 781.55,686.32"/>
<path d="M 778.77,715.52 C 786.66,719.8 799.52,696.06 791.63,691.78"/>
<path d="M 788.85,720.98 C 796.74,725.26 809.6,701.52 801.71,697.24"/>
<path d="M 798.93,726.44 C 806.82,730.72 819.68,706.98 811.79,702.7"/>
<path class='w' d="M 810.52,733.86 L 824.33,708.36 L 845.81,703.5 L 868.67,715.88 L 876.34,736.53 L 862.53,762.03 L 841.05,766.88 L 818.19,754.5 Z"/>
<path d="M 839.67,749.64 L 862.53,762.03"/>
<path d="M 818.19,754.5 L 841.05,766.88"/>
<path d="M 810.52,733.85 L 833.38,746.24"/>
<path d="M 824.33,708.36 L 847.19,720.74"/>
<path d="M 845.81,703.5 L 868.67,715.88"/>
<path d="M 853.48,724.15 L 876.34,736.53"/>
<path class='w' d="M 862.53,762.03 L 841.05,766.88 L 833.38,746.24 L 847.19,720.74 L 868.67,715.88 L 876.34,736.53 Z"/>
<ellipse cx="854.86" cy="741.38" rx="16.46" ry="24.94" transform="rotate(28.44 854.86 741.38)"/>
</g>
<g transform="translate(770,600) scale(0.239631)">
<ellipse class='w' cx="770" cy="541" rx="52" ry="80" transform="rotate(27 770 541)"/>
<ellipse class='w' cx="776" cy="544" rx="50" ry="77" transform="rotate(27 776 544)"/>
<ellipse class='w' cx="789" cy="551" rx="40" ry="64" transform="rotate(27 789 551)"/>
<ellipse class='w' cx="811" cy="563" rx="51" ry="83" transform="rotate(27 811 563)"/>
<ellipse class='w' cx="821" cy="568" rx="51" ry="83" transform="rotate(27 821 568)"/>
<ellipse cx="822" cy="568" rx="28" ry="46" transform="rotate(27 822 568)"/>
<path d="M 822,565 L 905,605"/>
<ellipse class='w' cx="925" cy="612" rx="7.75" ry="15.5" transform="rotate(30.04 925 612)"/>
<path class="w" style="stroke:none" d="M 917.24,625.42 L 1000.24,673.42 L 1015.76,646.58 L 932.76,598.58 Z"/>
<path d="M 917.24,625.42 L 1000.24,673.42 M 932.76,598.58 L 1015.76,646.58"/>
<path d="M 923.05,628.78 C 931.97,633.94 947.49,607.1 938.57,601.94"/>
<path d="M 934.67,635.5 C 943.59,640.66 959.11,613.82 950.19,608.66"/>
<path d="M 946.29,642.22 C 955.21,647.38 970.73,620.54 961.81,615.38"/>
<path d="M 957.91,648.94 C 966.83,654.1 982.35,627.26 973.43,622.1"/>
<path d="M 969.53,655.66 C 978.45,660.82 993.97,633.98 985.05,628.82"/>
<path class='w' d="M 982.67,664.99 L 999.69,635.55 L 1025.02,630.57 L 1050.99,645.59 L 1059.3,670.03 L 1042.28,699.46 L 1016.95,704.45 L 990.98,689.43 Z"/>
<path d="M 1016.31,684.45 L 1042.28,699.46"/>
<path d="M 990.98,689.43 L 1016.95,704.45"/>
<path d="M 982.67,664.99 L 1008.64,680.01"/>
<path d="M 999.69,635.55 L 1025.66,650.57"/>
<path d="M 1025.02,630.57 L 1050.99,645.59"/>
<path d="M 1033.33,655.01 L 1059.3,670.03"/>
<path class='w' d="M 1042.28,699.46 L 1016.95,704.45 L 1008.64,680.01 L 1025.66,650.57 L 1050.99,645.59 L 1059.3,670.03 Z"/>
<ellipse cx="1033.97" cy="675.02" rx="19.3" ry="29.24" transform="rotate(30.04 1033.97 675.02)"/>
</g>
<g transform="translate(0,940) scale(0.276498)">
<ellipse class='w' cx="640" cy="722" rx="4.5" ry="9" transform="rotate(29.9 640 722)"/>
<path class="w" style="stroke:none" d="M 635.51,729.8 L 675.51,752.8 L 684.49,737.2 L 644.49,714.2 Z"/>
<path d="M 635.51,729.8 L 675.51,752.8 M 644.49,714.2 L 684.49,737.2"/>
<ellipse class='w' cx="680" cy="745" rx="4.5" ry="9" transform="rotate(29.9 680 745)"/>
<path d="M 640.92,732.84 C 646.14,735.78 654.96,720.09 649.75,717.16"/>
<path d="M 651.59,738.84 C 656.8,741.78 665.63,726.09 660.41,723.16"/>
<path d="M 662.25,744.84 C 667.47,747.78 676.3,732.09 671.08,729.16"/>
<ellipse class='w' cx="682" cy="742" rx="10" ry="20" transform="rotate(29.78 682 742)"/>
<path class="w" style="stroke:none" d="M 672.07,759.36 L 852.07,862.36 L 871.93,827.64 L 691.93,724.64 Z"/>
<path d="M 672.07,759.36 L 852.07,862.36 M 691.93,724.64 L 871.93,827.64"/>
<ellipse class='w' cx="862" cy="845" rx="10" ry="20" transform="rotate(29.78 862 845)"/>
<path d="M 740,850 L 700,904"/>
</g>
<g transform="translate(100,1000) scale(0.313364)">
<path d="M 713,140 L 713,215"/>
<path d="M 868,360 L 998,432 L 996,455 L 866,383 Z M 866,372 L 997,444"/>
</g>
<g transform="translate(560,1000) scale(0.313364)">
<ellipse class='w' cx="545" cy="530" rx="19.44" ry="27" transform="rotate(27 545 530)"/>
<ellipse cx="545" cy="530" rx="11.52" ry="16" transform="rotate(27 545 530)"/>
<path class='w' d="M 566.94,550.88 L 580.14,528.02 L 600.6,524.59 L 619.8,535.68 L 627.06,555.12 L 613.86,577.98 L 593.4,581.41 L 574.2,570.32 Z"/>
<path d="M 594.66,566.89 L 613.86,577.98"/>
<path d="M 574.2,570.32 L 593.4,581.41"/>
<path d="M 566.94,550.89 L 586.14,561.97"/>
<path d="M 580.14,528.02 L 599.34,539.11"/>
<path d="M 600.6,524.59 L 619.8,535.68"/>
<path d="M 607.86,544.03 L 627.06,555.11"/>
<path class='w' d="M 613.86,577.98 L 593.4,581.41 L 586.14,561.97 L 599.34,539.11 L 619.8,535.68 L 627.06,555.11 Z"/>
<ellipse cx="606.6" cy="558.54" rx="15.89" ry="22.7" transform="rotate(30 606.6 558.54)"/>
<ellipse class='w' cx="606.6" cy="558.54" rx="8.32" ry="11.88" transform="rotate(30 606.6 558.54)"/>
<path d="M 735,328 L 778,352"/>
<ellipse class='w' cx="805" cy="375" rx="6.5" ry="13" transform="rotate(30.96 805 375)"/>
<path class="w" style="stroke:none" d="M 798.31,386.15 L 823.31,401.15 L 836.69,378.85 L 811.69,363.85 Z"/>
<path d="M 798.31,386.15 L 823.31,401.15 M 811.69,363.85 L 836.69,378.85"/>
<ellipse class='w' cx="830" cy="390" rx="6.5" ry="13" transform="rotate(30.96 830 390)"/>
<path d="M 800.81,387.68 C 808.36,391.9 821.06,369.21 813.52,364.99"/>
<path d="M 809.15,392.34 C 816.69,396.57 829.39,373.88 821.85,369.66"/>
<path d="M 817.48,397.01 C 825.02,401.23 837.73,378.55 830.19,374.32"/>
<ellipse class='w' cx="830" cy="390" rx="5" ry="10" transform="rotate(29.25 830 390)"/>
<path class="w" style="stroke:none" d="M 825.11,398.73 L 900.11,440.73 L 909.89,423.27 L 834.89,381.27 Z"/>
<path d="M 825.11,398.73 L 900.11,440.73 M 834.89,381.27 L 909.89,423.27"/>
<ellipse class='w' cx="915" cy="440" rx="27" ry="33" transform="rotate(25 915 440)"/>
</g>
<g transform="translate(680,60) scale(0.373272)">
<path style="fill:#555;stroke:none" d="M 341,148 L 341,223 Q 346,229 352,229 L 352,148 Z"/>
<path style="stroke-width:2" d="M 341,147 L 341,222 Q 350,233 360,222 L 360,147 M 352,150 L 352,228"/>
<path style="stroke-width:2" d="M 341,147 Q 350,138 360,147 Q 350,155 341,147"/>
</g>
<g transform="translate(700,150) scale(0.239631)">
<path d="M 40,1120 L 535,838 M 75,1112 L 557,846 M 85,1135 L 578,852 M 40,1120 L 75,1112 L 85,1135 L 55,1145 Z"/>
<path d="M 100,1150 L 592,858 M 135,1145 L 618,864 M 148,1165 L 650,872 M 100,1150 L 135,1145 L 148,1165 L 118,1178 Z"/>
<ellipse class='w' cx="648" cy="460" rx="238" ry="402" transform="rotate(12 648 460)"/>
<ellipse class='w' cx="672" cy="464" rx="238" ry="402" transform="rotate(12 672 464)"/>
<ellipse class='w' cx="700" cy="468" rx="238" ry="402" transform="rotate(12 700 468)"/>
<ellipse class='w' cx="738" cy="472" rx="238" ry="402" transform="rotate(12 738 472)"/>
<ellipse cx="735" cy="470" rx="205" ry="348" transform="rotate(12 735 470)"/>
<path d="M 560,372 Q 740,400 885,258 L 908,330 Q 760,520 775,745 L 712,775 Q 700,560 540,450"/>
<path d="M 785,135 Q 880,240 862,395 Q 850,560 768,700 M 620,800 Q 690,790 720,772"/>
<ellipse cx="715" cy="472" rx="25" ry="30"/>
<ellipse cx="735" cy="478" rx="19" ry="30"/>
</g>
<g transform="translate(0,760) scale(0.276498)">
<path class='w' d="M 648.88,136.76 L 669.13,101.68 L 700.52,96.42 L 729.98,113.43 L 741.12,143.24 L 720.87,178.32 L 689.48,183.58 L 660.02,166.57 Z"/>
<path d="M 691.41,161.31 L 720.87,178.32"/>
<path d="M 660.02,166.57 L 689.48,183.58"/>
<path d="M 648.88,136.76 L 678.34,153.77"/>
<path d="M 669.13,101.68 L 698.59,118.69"/>
<path d="M 700.52,96.42 L 729.98,113.43"/>
<path d="M 711.66,126.23 L 741.12,143.24"/>
<path class='w' d="M 720.87,178.32 L 689.48,183.58 L 678.34,153.77 L 698.59,118.69 L 729.98,113.43 L 741.12,143.24 Z"/>
<ellipse cx="709.73" cy="148.5" rx="24.38" ry="34.83" transform="rotate(30 709.73 148.5)"/>
<ellipse class='w' cx="709.73" cy="148.5" rx="12.76" ry="18.23" transform="rotate(30 709.73 148.5)"/>
</g>
<g transform="translate(20,560) scale(0.387097)">
<path class='w' d="M 484,410 L 484,480 M 517,410 L 517,480"/>
<ellipse class='w' cx="500" cy="408" rx="16.5" ry="8"/>
<path d="M 484,420 Q 500,429 517,420"/>
<path d="M 484,435 Q 500,444 517,435"/>
<path d="M 484,450 Q 500,459 517,450"/>
<path d="M 484,465 Q 500,474 517,465"/>
<path class='w' d="M 474,488 L 488,478 L 515,478 L 530,488 L 530,508 L 516,520 L 488,520 L 474,508 Z M 474,488 L 488,498 L 516,498 L 530,488 M 488,498 L 488,520 M 516,498 L 516,520"/>
</g>
<g transform="translate(140,950) scale(0.082949)">
<path d="M 55,150 L 150,205"/>
<ellipse class='w' cx="218" cy="316" rx="120.78" ry="183" transform="rotate(21.21 218 316)"/>
<path class="w" style="stroke:none" d="M 151.8,486.6 L 218.8,512.6 L 351.2,171.4 L 284.2,145.4 Z"/>
<path d="M 151.8,486.6 L 218.8,512.6 M 284.2,145.4 L 351.2,171.4"/>
<ellipse class='w' cx="285" cy="342" rx="120.78" ry="183" transform="rotate(21.21 285 342)"/>
<ellipse cx="283" cy="342" rx="72" ry="115" transform="rotate(25 283 342)"/>
<path d="M 285,232 L 298,222 L 318,232 L 322,250"/>
<path d="M 255,292 L 500,465"/>
<ellipse class='w' cx="592" cy="588" rx="150" ry="215" transform="rotate(25 592 588)"/>
<path style="stroke-width:3.2;stroke-linecap:butt" d="M 574.18,856.15 L 466.18,794.15 M 537.73,813.23 L 429.73,751.23 M 517.16,754.33 L 409.16,692.33 M 514.48,685.22 L 406.48,623.22 M 529.97,612.66 L 421.97,550.66 M 562.1,543.75 L 454.1,481.75 M 607.73,485.25 L 499.73,423.25 M 662.39,442.87 L 554.39,380.87 M 720.73,420.77 L 612.73,358.77 M 777.05,421.11 L 669.05,359.11 M 825.82,443.85 L 717.82,381.85"/>
<path style="stroke-width:2.6;stroke-linecap:butt" d="M 820.06,743.09 L 837.9,756.25 M 779.88,794.95 L 792.27,814.75 M 731.88,832.61 L 737.61,857.13 M 680.76,852.4 L 679.27,879.23 M 631.52,852.37 L 622.95,878.89 M 588.99,832.54 L 574.18,856.15 M 557.32,794.84 L 537.73,813.23 M 539.62,742.96 L 517.16,754.33 M 537.62,681.98 L 514.48,685.22 M 551.51,617.87 L 529.97,612.66 M 579.94,556.91 L 562.1,543.75 M 620.12,505.05 L 607.73,485.25 M 668.12,467.39 L 662.39,442.87 M 719.24,447.6 L 720.73,420.77 M 768.48,447.63 L 777.05,421.11 M 811.01,467.46 L 825.82,443.85 M 842.68,505.16 L 862.27,486.77 M 860.38,557.04 L 882.84,545.67 M 862.38,618.02 L 885.52,614.78 M 848.49,682.13 L 870.03,687.34"/>
<ellipse class='w' cx="700" cy="650" rx="150" ry="215" transform="rotate(25 700 650)"/>
<ellipse cx="700" cy="642" rx="108" ry="165" transform="rotate(25 700 642)"/>
<path d="M 735,492 L 752,482 L 772,492 L 774,508"/>
<path d="M 690,625 L 1917,1529"/>
</g>
<g transform="translate(270,1030) scale(0.092166)">
<ellipse class='w' cx="430" cy="650" rx="175" ry="265" transform="rotate(20 430 650)"/>
<ellipse class='w' cx="444" cy="655" rx="172" ry="262" transform="rotate(20 444 655)"/>
<ellipse class='w' cx="522" cy="715" rx="150" ry="228" transform="rotate(20 522 715)"/>
<ellipse class='w' cx="536" cy="720" rx="148" ry="226" transform="rotate(20 536 720)"/>
<ellipse class='w' cx="585" cy="722" rx="190.09" ry="285" transform="rotate(19.49 585 722)"/>
<path class="w" style="stroke:none" d="M 489.93,990.68 L 554.93,1013.68 L 745.07,476.32 L 680.07,453.32 Z"/>
<path d="M 489.93,990.68 L 554.93,1013.68 M 680.07,453.32 L 745.07,476.32"/>
<ellipse class='w' cx="650" cy="745" rx="190.09" ry="285" transform="rotate(19.49 650 745)"/>
<ellipse cx="652" cy="765" rx="62" ry="100" transform="rotate(20 652 765)"/>
<path class='w' d="M 618,672 L 640,650 L 672,640 L 685,668 L 712,690"/>
<ellipse class='w' cx="600" cy="515" rx="40" ry="22" transform="rotate(5 600 515)"/>
<ellipse class='w' cx="410" cy="858" rx="28" ry="42" transform="rotate(10 410 858)"/>
<path d="M 640,680 L 1070,915"/>
</g>
<g transform="translate(636,1036) scale(0.147465)">
<path d="M 75,560 L 75,380 Q 90,180 150,105 Q 190,62 235,80 L 705,350 L 940,255 Q 1000,238 1005,300 L 1000,400 Q 988,440 950,460 L 690,605 L 390,415 L 390,200"/>
<path d="M 75,560 Q 85,585 125,590 Q 180,585 185,530 L 185,445 L 390,330"/>
<path d="M 100,578 L 100,385 Q 115,200 168,130 Q 198,98 232,115 L 682,375 Q 668,395 690,420 Q 700,425 712,412 L 955,280 Q 990,272 992,305"/>
<path d="M 75,380 L 100,385 M 705,350 L 710,372"/>
<ellipse cx="195" cy="195" rx="38" ry="56" transform="rotate(15 195 195)"/>
<ellipse cx="135" cy="537" rx="9" ry="13" transform="rotate(15 135 537)"/>
<ellipse cx="930" cy="380" rx="24" ry="36" transform="rotate(20 930 380)"/>
<path d="M 722,-45 L 1035,140 L 805,268 L 855,298"/>
<path d="M 940,385 L 1085,475"/>
</g>
</g>

<!-- 30_gear.svgf -->
<g class="d">
<g transform="translate(780,845) scale(0.110599)">
<ellipse class='w' cx="443" cy="514" rx="256" ry="402" transform="rotate(20 443 514)"/>
<path class='w' d="M 392.48,942.48 L 368.15,918.93 L 233.15,840.93 L 257.48,864.48 Z"/>
<path class='w' d="M 357.82,906.03 L 338.48,875.04 L 203.48,797.04 L 222.82,828.03 Z"/>
<path class='w' d="M 330.66,858.88 L 316.96,821.52 L 181.96,743.52 L 195.66,780.88 Z"/>
<path class='w' d="M 311.92,802.65 L 304.33,760.18 L 169.33,682.18 L 176.92,724.65 Z"/>
<path class='w' d="M 302.25,739.24 L 301.03,693.11 L 166.03,615.11 L 167.25,661.24 Z"/>
<path class='w' d="M 301.96,670.81 L 307.15,622.6 L 172.15,544.6 L 166.96,592.81 Z"/>
<path class='w' d="M 311.08,599.7 L 322.5,551.05 L 187.5,473.05 L 176.08,521.7 Z"/>
<path class='w' d="M 329.28,528.34 L 346.55,480.9 L 211.55,402.9 L 194.28,450.34 Z"/>
<path class='w' d="M 355.95,459.13 L 378.48,414.52 L 243.48,336.52 L 220.95,381.13 Z"/>
<path class='w' d="M 390.19,394.46 L 417.2,354.19 L 282.2,276.19 L 255.19,316.46 Z"/>
<path class='w' d="M 430.82,336.51 L 461.4,301.96 L 326.4,223.96 L 295.82,258.51 Z"/>
<path class='w' d="M 476.46,287.26 L 509.58,259.61 L 374.58,181.61 L 341.46,209.26 Z"/>
<path class='w' d="M 525.56,248.38 L 560.08,228.57 L 425.08,150.57 L 390.56,170.38 Z"/>
<path class='w' d="M 576.45,221.21 L 611.19,209.91 L 476.19,131.91 L 441.45,143.21 Z"/>
<path class='w' d="M 627.39,206.67 L 661.17,204.26 L 526.17,126.26 L 492.39,128.67 Z"/>
<path class='w' d="M 676.65,205.25 L 708.32,211.82 L 573.32,133.82 L 541.65,127.25 Z"/>
<path class='w' d="M 722.54,217 L 751.03,232.32 L 616.03,154.32 L 587.54,139 Z"/>
<path class='k' d="M 368.15,918.93 L 357.82,906.03 L 222.82,828.03 L 233.15,840.93 Z"/>
<path class='k' d="M 338.48,875.04 L 330.66,858.88 L 195.66,780.88 L 203.48,797.04 Z"/>
<path class='k' d="M 316.96,821.52 L 311.92,802.65 L 176.92,724.65 L 181.96,743.52 Z"/>
<path class='k' d="M 304.33,760.18 L 302.25,739.24 L 167.25,661.24 L 169.33,682.18 Z"/>
<path class='k' d="M 301.03,693.11 L 301.96,670.81 L 166.96,592.81 L 166.03,615.11 Z"/>
<path class='k' d="M 307.15,622.6 L 311.08,599.7 L 176.08,521.7 L 172.15,544.6 Z"/>
<path class='k' d="M 322.5,551.05 L 329.28,528.34 L 194.28,450.34 L 187.5,473.05 Z"/>
<path class='k' d="M 346.55,480.9 L 355.95,459.13 L 220.95,381.13 L 211.55,402.9 Z"/>
<path class='k' d="M 378.48,414.52 L 390.19,394.46 L 255.19,316.46 L 243.48,336.52 Z"/>
<path class='k' d="M 417.2,354.19 L 430.82,336.51 L 295.82,258.51 L 282.2,276.19 Z"/>
<path class='k' d="M 461.4,301.96 L 476.46,287.26 L 341.46,209.26 L 326.4,223.96 Z"/>
<path class='k' d="M 509.58,259.61 L 525.56,248.38 L 390.56,170.38 L 374.58,181.61 Z"/>
<path class='k' d="M 560.08,228.57 L 576.45,221.21 L 441.45,143.21 L 425.08,150.57 Z"/>
<path class='k' d="M 611.19,209.91 L 627.39,206.67 L 492.39,128.67 L 476.19,131.91 Z"/>
<path class='k' d="M 661.17,204.26 L 676.65,205.25 L 541.65,127.25 L 526.17,126.26 Z"/>
<path class='k' d="M 708.32,211.82 L 722.54,217 L 587.54,139 L 573.32,133.82 Z"/>
<path class='k' d="M 751.03,232.32 L 763.52,241.52 L 628.52,163.52 L 616.03,154.32 Z"/>
<path class='w' d="M 392.48,942.48 L 368.15,918.93 L 233.15,840.93 L 257.48,864.48 Z"/>
<path class='w' d="M 357.82,906.03 L 338.48,875.04 L 203.48,797.04 L 222.82,828.03 Z"/>
<path class='w' d="M 330.66,858.88 L 316.96,821.52 L 181.96,743.52 L 195.66,780.88 Z"/>
<path class='w' d="M 311.92,802.65 L 304.33,760.18 L 169.33,682.18 L 176.92,724.65 Z"/>
<path class='w' d="M 302.25,739.24 L 301.03,693.11 L 166.03,615.11 L 167.25,661.24 Z"/>
<path class='w' d="M 301.96,670.81 L 307.15,622.6 L 172.15,544.6 L 166.96,592.81 Z"/>
<path class='w' d="M 311.08,599.7 L 322.5,551.05 L 187.5,473.05 L 176.08,521.7 Z"/>
<path class='w' d="M 329.28,528.34 L 346.55,480.9 L 211.55,402.9 L 194.28,450.34 Z"/>
<path class='w' d="M 355.95,459.13 L 378.48,414.52 L 243.48,336.52 L 220.95,381.13 Z"/>
<path class='w' d="M 390.19,394.46 L 417.2,354.19 L 282.2,276.19 L 255.19,316.46 Z"/>
<path class='w' d="M 430.82,336.51 L 461.4,301.96 L 326.4,223.96 L 295.82,258.51 Z"/>
<path class='w' d="M 476.46,287.26 L 509.58,259.61 L 374.58,181.61 L 341.46,209.26 Z"/>
<path class='w' d="M 525.56,248.38 L 560.08,228.57 L 425.08,150.57 L 390.56,170.38 Z"/>
<path class='w' d="M 576.45,221.21 L 611.19,209.91 L 476.19,131.91 L 441.45,143.21 Z"/>
<path class='w' d="M 627.39,206.67 L 661.17,204.26 L 526.17,126.26 L 492.39,128.67 Z"/>
<path class='w' d="M 676.65,205.25 L 708.32,211.82 L 573.32,133.82 L 541.65,127.25 Z"/>
<path class='w' d="M 722.54,217 L 751.03,232.32 L 616.03,154.32 L 587.54,139 Z"/>
<path class='w' d="M 778.82,637.79 L 826.72,655.66 L 809.45,703.1 L 761.27,686.01"/>
<path class='w' d="M 757.69,694.31 L 800.05,724.87 L 777.52,769.48 L 734.88,739.68"/>
<path class='w' d="M 730.44,747.34 L 765.81,789.54 L 738.8,829.81 L 703.16,788.33"/>
<path class='w' d="M 698,795.09 L 725.18,847.49 L 694.6,882.04 L 667.17,830.29"/>
<path class='w' d="M 661.47,835.92 L 679.54,896.74 L 646.42,924.39 L 628.14,864.14"/>
<path class='w' d="M 622.11,868.44 L 630.44,935.62 L 595.92,955.43 L 587.41,888.72"/>
<path class='w' d="M 581.23,891.55 L 579.55,962.79 L 544.81,974.09 L 546.35,903.2"/>
<path class='w' d="M 540.25,904.46 L 528.61,977.33 L 494.83,979.74 L 506.38,907.07"/>
<path class='w' d="M 500.56,906.73 L 479.35,978.75 L 447.68,972.18 L 468.84,900.22"/>
<path class='w' d="M 463.5,898.28 L 433.46,967 L 404.97,951.68 L 435.02,882.87"/>
<path class='w' d="M 430.34,879.4 L 392.48,942.48 L 368.15,918.93 L 406.07,855.62"/>
<path class='w' d="M 402.21,850.73 L 357.82,906.03 L 338.48,875.04 L 382.97,819.39"/>
<path class='w' d="M 380.07,813.25 L 330.66,858.88 L 316.96,821.52 L 366.52,775.42"/>
<path class='w' d="M 364.66,768.24 L 311.92,802.65 L 304.33,760.18 L 357.27,725.2"/>
<path class='w' d="M 356.52,717.23 L 302.25,739.24 L 301.03,693.11 L 355.53,670.44"/>
<path class='w' d="M 355.93,661.95 L 301.96,670.81 L 307.15,622.6 L 361.37,613.01"/>
<path class='w' d="M 362.89,604.29 L 311.08,599.7 L 322.5,551.05 L 374.59,554.87"/>
<path class='w' d="M 377.18,546.21 L 329.28,528.34 L 346.55,480.9 L 394.73,497.99"/>
<path class='w' d="M 398.31,489.69 L 355.95,459.13 L 378.48,414.52 L 421.12,444.32"/>
<path class='w' d="M 425.56,436.66 L 390.19,394.46 L 417.2,354.19 L 452.84,395.67"/>
<path class='w' d="M 458,388.91 L 430.82,336.51 L 461.4,301.96 L 488.83,353.71"/>
<path class='w' d="M 494.53,348.08 L 476.46,287.26 L 509.58,259.61 L 527.86,319.86"/>
<path class='w' d="M 533.89,315.56 L 525.56,248.38 L 560.08,228.57 L 568.59,295.28"/>
<path class='w' d="M 574.77,292.45 L 576.45,221.21 L 611.19,209.91 L 609.65,280.8"/>
<path class='w' d="M 615.75,279.54 L 627.39,206.67 L 661.17,204.26 L 649.62,276.93"/>
<path class='w' d="M 655.44,277.27 L 676.65,205.25 L 708.32,211.82 L 687.16,283.78"/>
<path class='w' d="M 692.5,285.72 L 722.54,217 L 751.03,232.32 L 720.98,301.13"/>
<path class='w' d="M 725.66,304.6 L 763.52,241.52 L 787.85,265.07 L 749.93,328.38"/>
<path class='w' d="M 753.79,333.27 L 798.18,277.97 L 817.52,308.96 L 773.03,364.61"/>
<path class='w' d="M 775.93,370.75 L 825.34,325.12 L 839.04,362.48 L 789.48,408.58"/>
<path class='w' d="M 791.34,415.76 L 844.08,381.35 L 851.67,423.82 L 798.73,458.8"/>
<path class='w' d="M 799.48,466.77 L 853.75,444.76 L 854.97,490.89 L 800.47,513.56"/>
<path class='w' d="M 800.07,522.05 L 854.04,513.19 L 848.85,561.4 L 794.63,570.99"/>
<path class='w' d="M 793.11,579.71 L 844.92,584.3 L 833.5,632.95 L 781.41,629.13"/>
<ellipse class='w' cx="578" cy="592" rx="205" ry="327" transform="rotate(20 578 592)"/>
<ellipse cx="545" cy="592" rx="128" ry="205" transform="rotate(20 545 592)"/>
<path d="M 545,392 L 640,440 M 470,770 L 520,800"/>
<ellipse class='w' cx="622" cy="640" rx="138" ry="200" transform="rotate(20 622 640)"/>
<ellipse class='w' cx="690" cy="678" rx="150" ry="212" transform="rotate(20 690 678)"/>
<ellipse cx="690" cy="680" rx="74" ry="106" transform="rotate(20 690 680)"/>
<path d="M 605,640 L 840,772"/>
</g>
</g>

<!-- 80_labels.svgf -->
<g class="lb">
<text x="72.11" y="130.37" textLength="37.24" lengthAdjust="spacingAndGlyphs">001</text>
<path d="M 75.39,141.25 L 112.44,141.25 M 112.44,141.25 L 167.19,184.56"/>
<text x="44.37" y="234.61" textLength="40.17" lengthAdjust="spacingAndGlyphs">002</text>
<path d="M 47.47,245.25 L 88.94,245.25 M 88.94,245.25 L 140.92,304.29"/>
<text x="80.02" y="612.26" textLength="39.82" lengthAdjust="spacingAndGlyphs">003</text>
<path d="M 78.06,616.25 L 126.45,616.25 M 126.45,616.25 L 180.65,659.87"/>
<text x="86.62" y="685.81" textLength="39" lengthAdjust="spacingAndGlyphs">004</text>
<path d="M 87.74,688.25 L 130.32,688.25 M 130.32,688.25 L 184.52,731.1"/>
<text x="108.09" y="857.33" textLength="39" lengthAdjust="spacingAndGlyphs">005</text>
<path d="M 109.22,861.25 L 150.69,861.25 M 150.69,861.25 L 185.81,812.53"/>
<text x="417.52" y="651.8" textLength="39.58" lengthAdjust="spacingAndGlyphs">006</text>
<path d="M 418.66,657.25 L 460.14,657.25 M 418.66,657.25 L 385.48,687.74"/>
<text x="570.93" y="554.52" textLength="37.05" lengthAdjust="spacingAndGlyphs">047</text>
<path d="M 570.16,558.25 L 611.23,558.25 M 611.23,558.25 L 573.23,620.71"/>
<text x="827.56" y="526.27" textLength="39.29" lengthAdjust="spacingAndGlyphs">046</text>
<path d="M 829.24,528.25 L 870.16,528.25 M 829.24,528.25 L 814.86,564.15"/>
<text x="878.41" y="540.09" textLength="39.87" lengthAdjust="spacingAndGlyphs">045</text>
<path d="M 878.46,544.25 L 919.93,544.25 M 878.46,544.25 L 832,582.95"/>
<text x="953.09" y="590.69" textLength="39" lengthAdjust="spacingAndGlyphs">044</text>
<path d="M 953.66,593.25 L 995.14,593.25 M 953.66,593.25 L 930.71,636.04"/>
<text x="1011.99" y="619.72" textLength="39" lengthAdjust="spacingAndGlyphs">043</text>
<path d="M 1013.11,622.25 L 1054.59,622.25 M 1013.11,622.25 L 989.61,665.9"/>
<text x="1029.4" y="658.16" textLength="39.29" lengthAdjust="spacingAndGlyphs">042</text>
<path d="M 1029.7,660.25 L 1071.73,660.25 M 1029.7,660.25 L 1018.64,685.81"/>
<text x="714.53" y="666.36" textLength="39.58" lengthAdjust="spacingAndGlyphs">040</text>
<path d="M 715.67,669.25 L 756.59,669.25 M 715.67,669.25 L 712.9,693.46"/>
<text x="885.09" y="794.1" textLength="39.39" lengthAdjust="spacingAndGlyphs">038</text>
<path d="M 886.22,798.25 L 928.16,798.25 M 928.16,798.25 L 949.24,761.75"/>
<text x="928.96" y="814.47" textLength="38.62" lengthAdjust="spacingAndGlyphs">037</text>
<path d="M 929.35,818.25 L 971.29,818.25 M 971.29,818.25 L 991.66,764.15"/>
<text x="701.45" y="800.74" textLength="39.29" lengthAdjust="spacingAndGlyphs">027</text>
<path d="M 700.37,804.25 L 743.23,804.25 M 700.37,804.25 L 696.22,814.56"/>
<text x="661.09" y="893.36" textLength="39" lengthAdjust="spacingAndGlyphs">029</text>
<path d="M 661.66,896.25 L 703.69,896.25 M 703.69,896.25 L 723.04,858.8"/>
<text x="711.67" y="919.63" textLength="39.58" lengthAdjust="spacingAndGlyphs">030</text>
<path d="M 711.43,922.25 L 752.9,922.25 M 752.9,922.25 L 760.37,875.39"/>
<text x="805.35" y="846.45" textLength="39.87" lengthAdjust="spacingAndGlyphs">028</text>
<path d="M 807.33,849.25 L 848.25,849.25 M 807.33,849.25 L 794.88,869.12"/>
<text x="741.25" y="956.96" textLength="39.87" lengthAdjust="spacingAndGlyphs">025</text>
<path d="M 740.46,961.25 L 780.55,961.25 M 740.46,961.25 L 723.87,979.63"/>
<text x="560.44" y="973.55" textLength="39.29" lengthAdjust="spacingAndGlyphs">008</text>
<path d="M 561.57,977.25 L 599.45,977.25 M 599.45,977.25 L 615.21,963.87"/>
<text x="880.91" y="898.99" textLength="37.24" lengthAdjust="spacingAndGlyphs">031</text>
<path d="M 883.36,902.25 L 925.39,902.25 M 883.36,902.25 L 876.45,906.45"/>
<text x="923.74" y="923.87" textLength="38.12" lengthAdjust="spacingAndGlyphs">032</text>
<path d="M 926.22,927.25 L 968.25,927.25 M 926.22,927.25 L 911.57,938.25"/>
<text x="873.39" y="1009.59" textLength="39.29" lengthAdjust="spacingAndGlyphs">033</text>
<path d="M 874.52,1014.25 L 915.99,1014.25 M 915.99,1014.25 L 925.39,976.96"/>
<text x="982.31" y="873.27" textLength="39.87" lengthAdjust="spacingAndGlyphs">036</text>
<path d="M 982.9,876.25 L 1027.14,876.25 M 982.9,876.25 L 970.46,888.48"/>
<text x="1021.02" y="934.93" textLength="39.87" lengthAdjust="spacingAndGlyphs">035</text>
<path d="M 1020.23,940.25 L 1062.53,940.25 M 1020.23,940.25 L 1006.41,914.75"/>
<text x="825.23" y="1029.77" textLength="39.21" lengthAdjust="spacingAndGlyphs">023</text>
<path d="M 822.6,1034.25 L 864.59,1034.25 M 822.6,1034.25 L 779.35,1075.21"/>
<text x="644.13" y="1225" textLength="38.55" lengthAdjust="spacingAndGlyphs">020</text>
<path d="M 644.61,1226.25 L 686.91,1226.25 M 686.91,1226.25 L 722.01,1178.62"/>
<text x="794.57" y="1242.86" textLength="37.55" lengthAdjust="spacingAndGlyphs">021</text>
<path d="M 794.4,1244.25 L 835.76,1244.25 M 794.4,1244.25 L 754.29,1184.26"/>
<text x="326.28" y="978.25" textLength="39.58" lengthAdjust="spacingAndGlyphs">016</text>
<path d="M 326.04,979.25 L 368.34,979.25 M 368.34,979.25 L 388.25,943.69"/>
<text x="376.59" y="1001.75" textLength="39.87" lengthAdjust="spacingAndGlyphs">017</text>
<path d="M 377.19,1003.25 L 418.66,1003.25 M 418.66,1003.25 L 429.72,974.65"/>
<text x="438.25" y="1025.81" textLength="40.17" lengthAdjust="spacingAndGlyphs">018</text>
<path d="M 439.4,1028.25 L 480.88,1028.25 M 480.88,1028.25 L 502.17,992.63"/>
<text x="488.86" y="1051.52" textLength="39.58" lengthAdjust="spacingAndGlyphs">019</text>
<path d="M 488.34,1053.25 L 529.82,1053.25 M 529.82,1053.25 L 534.79,1010.05"/>
<text x="349.52" y="1087.12" textLength="40.54" lengthAdjust="spacingAndGlyphs">014</text>
<path d="M 357.59,1089.25 L 393,1089.25 M 357.59,1089.25 L 349.12,1092.44"/>
<text x="213.2" y="1115.32" textLength="40.87" lengthAdjust="spacingAndGlyphs">013</text>
<path d="M 214.38,1121.25 L 255.12,1121.25 M 255.12,1121.25 L 317.79,1043.87"/>
<text x="348.95" y="1175.48" textLength="38.88" lengthAdjust="spacingAndGlyphs">015</text>
<path d="M 350.06,1181.25 L 391.43,1181.25 M 391.43,1181.25 L 401.46,1144.15"/>
<text x="120.19" y="1227.19" textLength="38.88" lengthAdjust="spacingAndGlyphs">009</text>
<path d="M 120.37,1234.25 L 162.67,1234.25 M 162.67,1234.25 L 204.35,1175.48"/>
<text x="74.9" y="1022.4" textLength="39.58" lengthAdjust="spacingAndGlyphs">010</text>
<path d="M 76.04,1027.25 L 117.51,1027.25 M 117.51,1027.25 L 149.31,991.15"/>
<text x="103.44" y="1050.05" textLength="37.24" lengthAdjust="spacingAndGlyphs">011</text>
<path d="M 105.07,1056.25 L 145.16,1056.25 M 145.16,1056.25 L 174.75,1018.8"/>
<text x="193.79" y="1050.05" textLength="39.58" lengthAdjust="spacingAndGlyphs">012</text>
<path d="M 194.93,1056.25 L 236.41,1056.25 M 236.41,1056.25 L 257.14,1010.51"/>
<text x="880.45" y="98.07" textLength="38.79" lengthAdjust="spacingAndGlyphs">206</text>
<path d="M 886.05,108.25 L 917.77,108.25 M 886.05,108.25 L 837.52,120.84"/>
<text x="1031.63" y="180.19" textLength="38.79" lengthAdjust="spacingAndGlyphs">207</text>
<path d="M 1024.16,190.25 L 1054.39,190.25 M 1024.16,190.25 L 974.88,202.96"/>
<text x="685.58" y="332.49" textLength="39.58" lengthAdjust="spacingAndGlyphs">230</text>
<path d="M 684.48,342.25 L 729.27,342.25 M 729.27,342.25 L 768.84,377.28"/>
<text x="886.77" y="388.48" textLength="39.58" lengthAdjust="spacingAndGlyphs">208</text>
<path d="M 893.51,396.25 L 920.76,396.25 M 893.51,396.25 L 847.97,382.88"/>
<text x="770.63" y="641.8" textLength="32.21" lengthAdjust="spacingAndGlyphs" style="font-size:19.5px;stroke:#111;stroke-width:.3px">046</text>
<path d="M 771.43,649.54 L 814.29,649.54 L 814.29,625.21"/>
<text x="967" y="1050.5" textLength="40" lengthAdjust="spacingAndGlyphs">034</text>
<path d="M 966,1053.5 L 1010,1053.5 M 966,1053.5 L 955,1025"/>
<text x="874" y="1177.5" textLength="40" lengthAdjust="spacingAndGlyphs">026</text>
<path d="M 872,1182 L 918,1182 M 872,1182 L 850,1147"/>
</g>

<!-- 90_watermark.svgf -->
<defs><mask id="halo" maskUnits="userSpaceOnUse" x="0" y="0" width="1085" height="1361"><rect width="1085" height="1361" fill="#fff"/><path d="M951.2,573.1 L1016,573.1 L1003.1,587.7 L973,592 Q947,612 935.7,645.1 L910.8,645.1 Q918,598 951.2,573.1 Z" fill="#000" stroke="#000" stroke-width="5.5" stroke-linejoin="round"/><path d="M973,594.3 L1042.5,593.3 Q1017,625 1008.3,664.8 L940.9,664.8 L939.8,643 Q949,615 973,594.3 Z" fill="#000" stroke="#000" stroke-width="5.5" stroke-linejoin="round"/></mask><clipPath id="ucl"><rect x="0" y="625.5" width="1085" height="300"/><rect x="0" y="400" width="225" height="230"/><rect x="430" y="400" width="655" height="230"/></clipPath></defs>
<g id="wm" opacity="0.272" mask="url(#halo)">
<text clip-path="url(#ucl)" font-family="DejaVu Sans, Liberation Sans, sans-serif" font-weight="bold" fill="#000" stroke="#000" stroke-linejoin="miter"><tspan x="12.4" y="809.32" font-size="245.16" stroke-width="7.15" textLength="210.84" lengthAdjust="spacingAndGlyphs">H</tspan><tspan x="218.6" y="811.08" font-size="249.97" stroke-width="3.65" textLength="217.35" lengthAdjust="spacingAndGlyphs">Ü</tspan><tspan x="442.8" y="807.64" font-size="240.54" stroke-width="10.53" textLength="161.03" lengthAdjust="spacingAndGlyphs">T</tspan><tspan x="608.0" y="811.08" font-size="249.97" stroke-width="3.65" textLength="195.93" lengthAdjust="spacingAndGlyphs">E</tspan><tspan x="793.8" y="811.08" font-size="249.97" stroke-width="3.65" textLength="200.70" lengthAdjust="spacingAndGlyphs">R</tspan></text>
<rect x="254.8" y="572.5" width="38.7" height="27.5" fill="#000"/>
<rect x="359.4" y="572.5" width="40.5" height="27.5" fill="#000"/>
<path d="M926.4,548.2 L989.6,548.2 L973,568.4 L949.2,568.4 Q920,584 909.1,620.2 L884.5,620.2 Q891,571 926.4,548.2 Z" fill="#000"/>
</g>
<g id="accent">
<path d="M951.2,573.1 L1016,573.1 L1003.1,587.7 L973,592 Q947,612 935.7,645.1 L910.8,645.1 Q918,598 951.2,573.1 Z" fill="#e6001e" opacity=".30"/>
<path d="M973,594.3 L1042.5,593.3 Q1017,625 1008.3,664.8 L940.9,664.8 L939.8,643 Q949,615 973,594.3 Z" fill="#ffff00" opacity=".31"/>
</g>


</svg>
</body></html>
